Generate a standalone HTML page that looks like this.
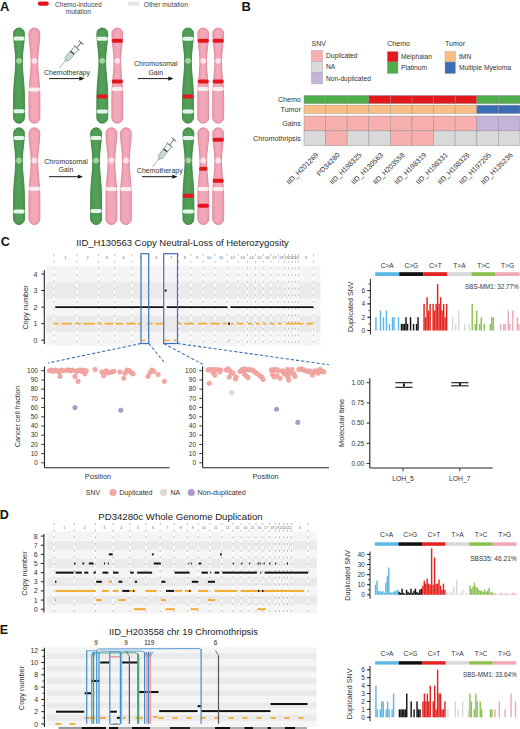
<!DOCTYPE html>
<html><head><meta charset="utf-8"><title>Figure</title>
<style>
html,body{margin:0;padding:0;background:#fff;}
body{width:520px;height:729px;overflow:hidden;}
svg{display:block;font-family:"Liberation Sans", sans-serif;}
</style></head><body>
<svg width="520" height="729" viewBox="0 0 520 729">
<rect x="0" y="0" width="520" height="729" fill="#fff"/>
<text x="0.1" y="11" font-size="13" text-anchor="start" fill="#111" font-weight="bold" >A</text>
<rect x="37.8" y="1.6" width="11" height="4.2" rx="2.1" fill="#e3161e"/>
<text x="55" y="6.8" font-size="6.6" text-anchor="start" fill="#444" font-weight="normal" >Chemo-induced</text>
<text x="78.3" y="14.3" font-size="6.6" text-anchor="middle" fill="#444" font-weight="normal" >mutation</text>
<rect x="127.8" y="1.6" width="12.2" height="4.2" rx="2.1" fill="#e6e6e6"/>
<text x="143.7" y="6.8" font-size="6.7" text-anchor="start" fill="#444" font-weight="normal" >Other mutation</text>
<path d="M13.55,33.45 A5.45,5.45 0 0 1 24.45,33.45 C24.45,42.45 22.30,51.80 22.30,60.80 C22.30,72.80 24.45,82.80 24.45,98.80 L24.45,117.75 A5.45,5.45 0 0 1 13.55,117.75 L13.55,98.80 C13.55,82.80 15.70,72.80 15.70,60.80 C15.70,51.80 13.55,42.45 13.55,33.45 Z" fill="#4c9952" stroke="#3a8440" stroke-width="0.9"/>
<path d="M16.00,33.50 A3.0,3.0 0 0 1 22.00,33.50 C22.00,42.50 20.40,51.80 20.40,60.80 C20.40,72.80 22.00,82.80 22.00,98.80 L22.00,117.70 A3.0,3.0 0 0 1 16.00,117.70 L16.00,98.80 C16.00,82.80 17.60,72.80 17.60,60.80 C17.60,51.80 16.00,42.50 16.00,33.50 Z" fill="#58a45d" opacity="0.55"/>
<circle cx="19.00" cy="60.80" r="2.9" fill="#a3d6a3" opacity="0.95"/>
<rect x="13.40" y="36.60" width="11.20" height="4.0" rx="1.8" fill="#e4f5ec"/>
<rect x="13.40" y="109.20" width="11.20" height="4.0" rx="1.8" fill="#e4f5ec"/>
<path d="M28.95,33.45 A5.45,5.45 0 0 1 39.85,33.45 C39.85,42.45 37.70,51.80 37.70,60.80 C37.70,72.80 39.85,82.80 39.85,98.80 L39.85,117.75 A5.45,5.45 0 0 1 28.95,117.75 L28.95,98.80 C28.95,82.80 31.10,72.80 31.10,60.80 C31.10,51.80 28.95,42.45 28.95,33.45 Z" fill="#efa0b2" stroke="#dd8299" stroke-width="0.9"/>
<path d="M31.40,33.50 A3.0,3.0 0 0 1 37.40,33.50 C37.40,42.50 35.80,51.80 35.80,60.80 C35.80,72.80 37.40,82.80 37.40,98.80 L37.40,117.70 A3.0,3.0 0 0 1 31.40,117.70 L31.40,98.80 C31.40,82.80 33.00,72.80 33.00,60.80 C33.00,51.80 31.40,42.50 31.40,33.50 Z" fill="#f3b0c0" opacity="0.55"/>
<circle cx="34.40" cy="60.80" r="2.9" fill="#fde6ec" opacity="0.95"/>
<rect x="28.80" y="87.40" width="11.20" height="4.0" rx="1.8" fill="#f7eef0"/>
<path d="M96.85,33.45 A5.45,5.45 0 0 1 107.75,33.45 C107.75,42.45 105.60,51.80 105.60,60.80 C105.60,72.80 107.75,82.80 107.75,98.80 L107.75,117.75 A5.45,5.45 0 0 1 96.85,117.75 L96.85,98.80 C96.85,82.80 99.00,72.80 99.00,60.80 C99.00,51.80 96.85,42.45 96.85,33.45 Z" fill="#4c9952" stroke="#3a8440" stroke-width="0.9"/>
<path d="M99.30,33.50 A3.0,3.0 0 0 1 105.30,33.50 C105.30,42.50 103.70,51.80 103.70,60.80 C103.70,72.80 105.30,82.80 105.30,98.80 L105.30,117.70 A3.0,3.0 0 0 1 99.30,117.70 L99.30,98.80 C99.30,82.80 100.90,72.80 100.90,60.80 C100.90,51.80 99.30,42.50 99.30,33.50 Z" fill="#58a45d" opacity="0.55"/>
<circle cx="102.30" cy="60.80" r="2.9" fill="#a3d6a3" opacity="0.95"/>
<rect x="96.70" y="36.80" width="11.20" height="4.0" rx="1.8" fill="#e4f5ec"/>
<rect x="96.70" y="94.60" width="11.20" height="4.0" rx="1.8" fill="#e3161e"/>
<rect x="96.70" y="109.50" width="11.20" height="4.0" rx="1.8" fill="#e4f5ec"/>
<path d="M111.85,33.45 A5.45,5.45 0 0 1 122.75,33.45 C122.75,42.45 120.60,51.80 120.60,60.80 C120.60,72.80 122.75,82.80 122.75,98.80 L122.75,117.75 A5.45,5.45 0 0 1 111.85,117.75 L111.85,98.80 C111.85,82.80 114.00,72.80 114.00,60.80 C114.00,51.80 111.85,42.45 111.85,33.45 Z" fill="#efa0b2" stroke="#dd8299" stroke-width="0.9"/>
<path d="M114.30,33.50 A3.0,3.0 0 0 1 120.30,33.50 C120.30,42.50 118.70,51.80 118.70,60.80 C118.70,72.80 120.30,82.80 120.30,98.80 L120.30,117.70 A3.0,3.0 0 0 1 114.30,117.70 L114.30,98.80 C114.30,82.80 115.90,72.80 115.90,60.80 C115.90,51.80 114.30,42.50 114.30,33.50 Z" fill="#f3b0c0" opacity="0.55"/>
<circle cx="117.30" cy="60.80" r="2.9" fill="#fde6ec" opacity="0.95"/>
<rect x="111.70" y="38.70" width="11.20" height="4.0" rx="1.8" fill="#e3161e"/>
<rect x="111.70" y="79.40" width="11.20" height="4.0" rx="1.8" fill="#e3161e"/>
<rect x="111.70" y="86.90" width="11.20" height="4.0" rx="1.8" fill="#f7eef0"/>
<path d="M182.55,33.45 A5.45,5.45 0 0 1 193.45,33.45 C193.45,42.45 191.30,51.80 191.30,60.80 C191.30,72.80 193.45,82.80 193.45,98.80 L193.45,117.75 A5.45,5.45 0 0 1 182.55,117.75 L182.55,98.80 C182.55,82.80 184.70,72.80 184.70,60.80 C184.70,51.80 182.55,42.45 182.55,33.45 Z" fill="#4c9952" stroke="#3a8440" stroke-width="0.9"/>
<path d="M185.00,33.50 A3.0,3.0 0 0 1 191.00,33.50 C191.00,42.50 189.40,51.80 189.40,60.80 C189.40,72.80 191.00,82.80 191.00,98.80 L191.00,117.70 A3.0,3.0 0 0 1 185.00,117.70 L185.00,98.80 C185.00,82.80 186.60,72.80 186.60,60.80 C186.60,51.80 185.00,42.50 185.00,33.50 Z" fill="#58a45d" opacity="0.55"/>
<circle cx="188.00" cy="60.80" r="2.9" fill="#a3d6a3" opacity="0.95"/>
<rect x="182.40" y="36.80" width="11.20" height="4.0" rx="1.8" fill="#e4f5ec"/>
<rect x="182.40" y="94.60" width="11.20" height="4.0" rx="1.8" fill="#e3161e"/>
<rect x="182.40" y="109.50" width="11.20" height="4.0" rx="1.8" fill="#e4f5ec"/>
<path d="M197.75,33.45 A5.45,5.45 0 0 1 208.65,33.45 C208.65,42.45 206.50,51.80 206.50,60.80 C206.50,72.80 208.65,82.80 208.65,98.80 L208.65,117.75 A5.45,5.45 0 0 1 197.75,117.75 L197.75,98.80 C197.75,82.80 199.90,72.80 199.90,60.80 C199.90,51.80 197.75,42.45 197.75,33.45 Z" fill="#efa0b2" stroke="#dd8299" stroke-width="0.9"/>
<path d="M200.20,33.50 A3.0,3.0 0 0 1 206.20,33.50 C206.20,42.50 204.60,51.80 204.60,60.80 C204.60,72.80 206.20,82.80 206.20,98.80 L206.20,117.70 A3.0,3.0 0 0 1 200.20,117.70 L200.20,98.80 C200.20,82.80 201.80,72.80 201.80,60.80 C201.80,51.80 200.20,42.50 200.20,33.50 Z" fill="#f3b0c0" opacity="0.55"/>
<circle cx="203.20" cy="60.80" r="2.9" fill="#fde6ec" opacity="0.95"/>
<rect x="197.60" y="38.70" width="11.20" height="4.0" rx="1.8" fill="#e3161e"/>
<rect x="197.60" y="79.40" width="11.20" height="4.0" rx="1.8" fill="#e3161e"/>
<rect x="197.60" y="86.90" width="11.20" height="4.0" rx="1.8" fill="#f7eef0"/>
<path d="M212.75,33.45 A5.45,5.45 0 0 1 223.65,33.45 C223.65,42.45 221.50,51.80 221.50,60.80 C221.50,72.80 223.65,82.80 223.65,98.80 L223.65,117.75 A5.45,5.45 0 0 1 212.75,117.75 L212.75,98.80 C212.75,82.80 214.90,72.80 214.90,60.80 C214.90,51.80 212.75,42.45 212.75,33.45 Z" fill="#efa0b2" stroke="#dd8299" stroke-width="0.9"/>
<path d="M215.20,33.50 A3.0,3.0 0 0 1 221.20,33.50 C221.20,42.50 219.60,51.80 219.60,60.80 C219.60,72.80 221.20,82.80 221.20,98.80 L221.20,117.70 A3.0,3.0 0 0 1 215.20,117.70 L215.20,98.80 C215.20,82.80 216.80,72.80 216.80,60.80 C216.80,51.80 215.20,42.50 215.20,33.50 Z" fill="#f3b0c0" opacity="0.55"/>
<circle cx="218.20" cy="60.80" r="2.9" fill="#fde6ec" opacity="0.95"/>
<rect x="212.60" y="38.70" width="11.20" height="4.0" rx="1.8" fill="#e3161e"/>
<rect x="212.60" y="79.40" width="11.20" height="4.0" rx="1.8" fill="#e3161e"/>
<rect x="212.60" y="86.90" width="11.20" height="4.0" rx="1.8" fill="#f7eef0"/>
<path d="M13.55,133.25 A5.45,5.45 0 0 1 24.45,133.25 C24.45,142.25 22.30,151.50 22.30,160.50 C22.30,172.50 24.45,182.50 24.45,198.50 L24.45,219.05 A5.45,5.45 0 0 1 13.55,219.05 L13.55,198.50 C13.55,182.50 15.70,172.50 15.70,160.50 C15.70,151.50 13.55,142.25 13.55,133.25 Z" fill="#4c9952" stroke="#3a8440" stroke-width="0.9"/>
<path d="M16.00,133.30 A3.0,3.0 0 0 1 22.00,133.30 C22.00,142.30 20.40,151.50 20.40,160.50 C20.40,172.50 22.00,182.50 22.00,198.50 L22.00,219.00 A3.0,3.0 0 0 1 16.00,219.00 L16.00,198.50 C16.00,182.50 17.60,172.50 17.60,160.50 C17.60,151.50 16.00,142.30 16.00,133.30 Z" fill="#58a45d" opacity="0.55"/>
<circle cx="19.00" cy="160.50" r="2.9" fill="#a3d6a3" opacity="0.95"/>
<rect x="13.40" y="136.00" width="11.20" height="4.0" rx="1.8" fill="#e4f5ec"/>
<rect x="13.40" y="209.60" width="11.20" height="4.0" rx="1.8" fill="#e4f5ec"/>
<path d="M28.95,133.25 A5.45,5.45 0 0 1 39.85,133.25 C39.85,142.25 37.70,151.50 37.70,160.50 C37.70,172.50 39.85,182.50 39.85,198.50 L39.85,219.05 A5.45,5.45 0 0 1 28.95,219.05 L28.95,198.50 C28.95,182.50 31.10,172.50 31.10,160.50 C31.10,151.50 28.95,142.25 28.95,133.25 Z" fill="#efa0b2" stroke="#dd8299" stroke-width="0.9"/>
<path d="M31.40,133.30 A3.0,3.0 0 0 1 37.40,133.30 C37.40,142.30 35.80,151.50 35.80,160.50 C35.80,172.50 37.40,182.50 37.40,198.50 L37.40,219.00 A3.0,3.0 0 0 1 31.40,219.00 L31.40,198.50 C31.40,182.50 33.00,172.50 33.00,160.50 C33.00,151.50 31.40,142.30 31.40,133.30 Z" fill="#f3b0c0" opacity="0.55"/>
<circle cx="34.40" cy="160.50" r="2.9" fill="#fde6ec" opacity="0.95"/>
<rect x="28.80" y="186.70" width="11.20" height="4.0" rx="1.8" fill="#f7eef0"/>
<path d="M90.65,133.25 A5.45,5.45 0 0 1 101.55,133.25 C101.55,142.25 99.40,151.50 99.40,160.50 C99.40,172.50 101.55,182.50 101.55,198.50 L101.55,219.05 A5.45,5.45 0 0 1 90.65,219.05 L90.65,198.50 C90.65,182.50 92.80,172.50 92.80,160.50 C92.80,151.50 90.65,142.25 90.65,133.25 Z" fill="#4c9952" stroke="#3a8440" stroke-width="0.9"/>
<path d="M93.10,133.30 A3.0,3.0 0 0 1 99.10,133.30 C99.10,142.30 97.50,151.50 97.50,160.50 C97.50,172.50 99.10,182.50 99.10,198.50 L99.10,219.00 A3.0,3.0 0 0 1 93.10,219.00 L93.10,198.50 C93.10,182.50 94.70,172.50 94.70,160.50 C94.70,151.50 93.10,142.30 93.10,133.30 Z" fill="#58a45d" opacity="0.55"/>
<circle cx="96.10" cy="160.50" r="2.9" fill="#a3d6a3" opacity="0.95"/>
<rect x="90.50" y="136.00" width="11.20" height="4.0" rx="1.8" fill="#e4f5ec"/>
<rect x="90.50" y="209.00" width="11.20" height="4.0" rx="1.8" fill="#e4f5ec"/>
<path d="M105.95,133.25 A5.45,5.45 0 0 1 116.85,133.25 C116.85,142.25 114.70,151.50 114.70,160.50 C114.70,172.50 116.85,182.50 116.85,198.50 L116.85,219.05 A5.45,5.45 0 0 1 105.95,219.05 L105.95,198.50 C105.95,182.50 108.10,172.50 108.10,160.50 C108.10,151.50 105.95,142.25 105.95,133.25 Z" fill="#efa0b2" stroke="#dd8299" stroke-width="0.9"/>
<path d="M108.40,133.30 A3.0,3.0 0 0 1 114.40,133.30 C114.40,142.30 112.80,151.50 112.80,160.50 C112.80,172.50 114.40,182.50 114.40,198.50 L114.40,219.00 A3.0,3.0 0 0 1 108.40,219.00 L108.40,198.50 C108.40,182.50 110.00,172.50 110.00,160.50 C110.00,151.50 108.40,142.30 108.40,133.30 Z" fill="#f3b0c0" opacity="0.55"/>
<circle cx="111.40" cy="160.50" r="2.9" fill="#fde6ec" opacity="0.95"/>
<rect x="105.80" y="186.90" width="11.20" height="4.0" rx="1.8" fill="#f7eef0"/>
<path d="M120.45,133.25 A5.45,5.45 0 0 1 131.35,133.25 C131.35,142.25 129.20,151.50 129.20,160.50 C129.20,172.50 131.35,182.50 131.35,198.50 L131.35,219.05 A5.45,5.45 0 0 1 120.45,219.05 L120.45,198.50 C120.45,182.50 122.60,172.50 122.60,160.50 C122.60,151.50 120.45,142.25 120.45,133.25 Z" fill="#efa0b2" stroke="#dd8299" stroke-width="0.9"/>
<path d="M122.90,133.30 A3.0,3.0 0 0 1 128.90,133.30 C128.90,142.30 127.30,151.50 127.30,160.50 C127.30,172.50 128.90,182.50 128.90,198.50 L128.90,219.00 A3.0,3.0 0 0 1 122.90,219.00 L122.90,198.50 C122.90,182.50 124.50,172.50 124.50,160.50 C124.50,151.50 122.90,142.30 122.90,133.30 Z" fill="#f3b0c0" opacity="0.55"/>
<circle cx="125.90" cy="160.50" r="2.9" fill="#fde6ec" opacity="0.95"/>
<rect x="120.30" y="186.90" width="11.20" height="4.0" rx="1.8" fill="#f7eef0"/>
<path d="M182.95,133.25 A5.45,5.45 0 0 1 193.85,133.25 C193.85,142.25 191.70,151.50 191.70,160.50 C191.70,172.50 193.85,182.50 193.85,198.50 L193.85,219.05 A5.45,5.45 0 0 1 182.95,219.05 L182.95,198.50 C182.95,182.50 185.10,172.50 185.10,160.50 C185.10,151.50 182.95,142.25 182.95,133.25 Z" fill="#4c9952" stroke="#3a8440" stroke-width="0.9"/>
<path d="M185.40,133.30 A3.0,3.0 0 0 1 191.40,133.30 C191.40,142.30 189.80,151.50 189.80,160.50 C189.80,172.50 191.40,182.50 191.40,198.50 L191.40,219.00 A3.0,3.0 0 0 1 185.40,219.00 L185.40,198.50 C185.40,182.50 187.00,172.50 187.00,160.50 C187.00,151.50 185.40,142.30 185.40,133.30 Z" fill="#58a45d" opacity="0.55"/>
<circle cx="188.40" cy="160.50" r="2.9" fill="#a3d6a3" opacity="0.95"/>
<rect x="182.80" y="136.00" width="11.20" height="4.0" rx="1.8" fill="#e4f5ec"/>
<rect x="182.80" y="193.80" width="11.20" height="4.0" rx="1.8" fill="#e3161e"/>
<rect x="182.80" y="209.50" width="11.20" height="4.0" rx="1.8" fill="#e4f5ec"/>
<path d="M197.85,133.25 A5.45,5.45 0 0 1 208.75,133.25 C208.75,142.25 206.60,151.50 206.60,160.50 C206.60,172.50 208.75,182.50 208.75,198.50 L208.75,219.05 A5.45,5.45 0 0 1 197.85,219.05 L197.85,198.50 C197.85,182.50 200.00,172.50 200.00,160.50 C200.00,151.50 197.85,142.25 197.85,133.25 Z" fill="#efa0b2" stroke="#dd8299" stroke-width="0.9"/>
<path d="M200.30,133.30 A3.0,3.0 0 0 1 206.30,133.30 C206.30,142.30 204.70,151.50 204.70,160.50 C204.70,172.50 206.30,182.50 206.30,198.50 L206.30,219.00 A3.0,3.0 0 0 1 200.30,219.00 L200.30,198.50 C200.30,182.50 201.90,172.50 201.90,160.50 C201.90,151.50 200.30,142.30 200.30,133.30 Z" fill="#f3b0c0" opacity="0.55"/>
<circle cx="203.30" cy="160.50" r="2.9" fill="#fde6ec" opacity="0.95"/>
<rect x="199.10" y="166.80" width="8.40" height="4.0" rx="1.8" fill="#e3161e"/>
<rect x="197.70" y="187.00" width="11.20" height="4.0" rx="1.8" fill="#f7eef0"/>
<rect x="197.70" y="203.80" width="11.20" height="4.0" rx="1.8" fill="#e3161e"/>
<path d="M212.75,133.25 A5.45,5.45 0 0 1 223.65,133.25 C223.65,142.25 221.50,151.50 221.50,160.50 C221.50,172.50 223.65,182.50 223.65,198.50 L223.65,219.05 A5.45,5.45 0 0 1 212.75,219.05 L212.75,198.50 C212.75,182.50 214.90,172.50 214.90,160.50 C214.90,151.50 212.75,142.25 212.75,133.25 Z" fill="#efa0b2" stroke="#dd8299" stroke-width="0.9"/>
<path d="M215.20,133.30 A3.0,3.0 0 0 1 221.20,133.30 C221.20,142.30 219.60,151.50 219.60,160.50 C219.60,172.50 221.20,182.50 221.20,198.50 L221.20,219.00 A3.0,3.0 0 0 1 215.20,219.00 L215.20,198.50 C215.20,182.50 216.80,172.50 216.80,160.50 C216.80,151.50 215.20,142.30 215.20,133.30 Z" fill="#f3b0c0" opacity="0.55"/>
<circle cx="218.20" cy="160.50" r="2.9" fill="#fde6ec" opacity="0.95"/>
<rect x="212.60" y="137.70" width="11.20" height="4.0" rx="1.8" fill="#e3161e"/>
<rect x="212.60" y="178.80" width="11.20" height="4.0" rx="1.8" fill="#e3161e"/>
<rect x="212.60" y="187.00" width="11.20" height="4.0" rx="1.8" fill="#f7eef0"/>
<text x="67" y="74.6" font-size="7.0" text-anchor="middle" fill="#333" font-weight="normal" >Chemotherapy</text>
<line x1="49.2" y1="78.6" x2="81.6" y2="78.6" stroke="#1a1a1a" stroke-width="1.0"/><path d="M84.6,78.6 L79.39999999999999,76.5 L79.39999999999999,80.69999999999999 Z" fill="#1a1a1a"/>
<text x="155.8" y="66.2" font-size="7.0" text-anchor="middle" fill="#333" font-weight="normal" >Chromosomal</text>
<text x="155.8" y="74.6" font-size="7.0" text-anchor="middle" fill="#333" font-weight="normal" >Gain</text>
<line x1="137.7" y1="78.6" x2="170.5" y2="78.6" stroke="#1a1a1a" stroke-width="1.0"/><path d="M173.5,78.6 L168.3,76.5 L168.3,80.69999999999999 Z" fill="#1a1a1a"/>
<text x="66" y="163.6" font-size="7.0" text-anchor="middle" fill="#333" font-weight="normal" >Chromosomal</text>
<text x="66" y="172.1" font-size="7.0" text-anchor="middle" fill="#333" font-weight="normal" >Gain</text>
<line x1="49" y1="176.7" x2="80" y2="176.7" stroke="#1a1a1a" stroke-width="1.0"/><path d="M83,176.7 L77.8,174.6 L77.8,178.79999999999998 Z" fill="#1a1a1a"/>
<text x="159.8" y="172.6" font-size="7.0" text-anchor="middle" fill="#333" font-weight="normal" >Chemotherapy</text>
<line x1="142" y1="176.7" x2="174.5" y2="176.7" stroke="#1a1a1a" stroke-width="1.0"/><path d="M177.5,176.7 L172.3,174.6 L172.3,178.79999999999998 Z" fill="#1a1a1a"/>
<g transform="translate(59.00,68.40) rotate(-49.42)">
<line x1="0" y1="0" x2="10.74" y2="0" stroke="#7f8a8a" stroke-width="0.6"/>
<rect x="9.67" y="-1.0" width="2.15" height="2.0" fill="#c9d6d4" stroke="#6f7b7b" stroke-width="0.4"/>
<rect x="11.82" y="-2.5" width="15.40" height="5.0" rx="0.5" fill="#eef4f3" stroke="#5f6b6b" stroke-width="0.55"/>
<rect x="12.22" y="-1.9" width="8.01" height="3.8" fill="#c3dcd8"/>
<rect x="19.83" y="-2.3" width="1.5" height="4.6" fill="#3d4a4a"/>
<line x1="15.67" y1="-2.5" x2="15.67" y2="-1.2" stroke="#5f6b6b" stroke-width="0.4"/>
<line x1="19.52" y1="-2.5" x2="19.52" y2="-1.2" stroke="#5f6b6b" stroke-width="0.4"/>
<line x1="23.37" y1="-2.5" x2="23.37" y2="-1.2" stroke="#5f6b6b" stroke-width="0.4"/>
<line x1="27.22" y1="-3.8" x2="27.22" y2="3.8" stroke="#5f6b6b" stroke-width="0.8"/>
<line x1="27.22" y1="0" x2="34.02" y2="0" stroke="#6f7b7b" stroke-width="1.0"/>
<line x1="34.02" y1="-3.0" x2="34.02" y2="3.0" stroke="#5f6b6b" stroke-width="1.0"/>
</g>
<g transform="translate(152.60,167.00) rotate(-52.32)">
<line x1="0" y1="0" x2="10.99" y2="0" stroke="#7f8a8a" stroke-width="0.6"/>
<rect x="9.89" y="-1.0" width="2.20" height="2.0" fill="#c9d6d4" stroke="#6f7b7b" stroke-width="0.4"/>
<rect x="12.09" y="-2.5" width="15.76" height="5.0" rx="0.5" fill="#eef4f3" stroke="#5f6b6b" stroke-width="0.55"/>
<rect x="12.49" y="-1.9" width="8.19" height="3.8" fill="#c3dcd8"/>
<rect x="20.29" y="-2.3" width="1.5" height="4.6" fill="#3d4a4a"/>
<line x1="16.03" y1="-2.5" x2="16.03" y2="-1.2" stroke="#5f6b6b" stroke-width="0.4"/>
<line x1="19.97" y1="-2.5" x2="19.97" y2="-1.2" stroke="#5f6b6b" stroke-width="0.4"/>
<line x1="23.91" y1="-2.5" x2="23.91" y2="-1.2" stroke="#5f6b6b" stroke-width="0.4"/>
<line x1="27.85" y1="-3.8" x2="27.85" y2="3.8" stroke="#5f6b6b" stroke-width="0.8"/>
<line x1="27.85" y1="0" x2="34.81" y2="0" stroke="#6f7b7b" stroke-width="1.0"/>
<line x1="34.81" y1="-3.0" x2="34.81" y2="3.0" stroke="#5f6b6b" stroke-width="1.0"/>
</g>
<text x="241.6" y="11.2" font-size="13" text-anchor="start" fill="#111" font-weight="bold" >B</text>
<text x="311.5" y="46" font-size="7" text-anchor="start" fill="#333" font-weight="normal" >SNV</text>
<text x="387.3" y="46" font-size="7" text-anchor="start" fill="#333" font-weight="normal" >Chemo</text>
<text x="445" y="46" font-size="7" text-anchor="start" fill="#333" font-weight="normal" >Tumor</text>
<rect x="311.5" y="50.4" width="11.1" height="11.10" fill="#f8b0ae" stroke="#aaa" stroke-width="0.5"/>
<text x="325.9" y="58.45" font-size="6.7" text-anchor="start" fill="#333" font-weight="normal" >Duplicated</text>
<rect x="311.5" y="61.5" width="11.1" height="10.80" fill="#d9d9d9" stroke="#aaa" stroke-width="0.5"/>
<text x="325.9" y="69.4" font-size="6.7" text-anchor="start" fill="#333" font-weight="normal" >NA</text>
<rect x="311.5" y="72.3" width="11.1" height="11.60" fill="#c5b4da" stroke="#aaa" stroke-width="0.5"/>
<text x="325.9" y="80.6" font-size="6.7" text-anchor="start" fill="#333" font-weight="normal" >Non-duplicated</text>
<rect x="387.3" y="51.6" width="10.7" height="10.40" fill="#e3191c" stroke="#999" stroke-width="0.4"/>
<text x="401" y="59.3" font-size="6.7" text-anchor="start" fill="#333" font-weight="normal" >Melphalan</text>
<rect x="387.3" y="62" width="10.7" height="11.50" fill="#4dae4a" stroke="#999" stroke-width="0.4"/>
<text x="401" y="70.25" font-size="6.7" text-anchor="start" fill="#333" font-weight="normal" >Platinum</text>
<rect x="445" y="51.6" width="10.4" height="10.40" fill="#fbbd86" stroke="#999" stroke-width="0.4"/>
<text x="459" y="59.3" font-size="6.7" text-anchor="start" fill="#333" font-weight="normal" >tMN</text>
<rect x="445" y="62" width="10.4" height="11.50" fill="#3b6db4" stroke="#999" stroke-width="0.4"/>
<text x="459" y="70.25" font-size="6.7" text-anchor="start" fill="#333" font-weight="normal" >Multiple Myeloma</text>
<rect x="304.00" y="95.5" width="21.60" height="8.10" fill="#4dae4a" stroke="#8c8c8c" stroke-opacity="0.55" stroke-width="0.8"/>
<rect x="325.60" y="95.5" width="21.60" height="8.10" fill="#4dae4a" stroke="#8c8c8c" stroke-opacity="0.55" stroke-width="0.8"/>
<rect x="347.20" y="95.5" width="21.60" height="8.10" fill="#4dae4a" stroke="#8c8c8c" stroke-opacity="0.55" stroke-width="0.8"/>
<rect x="368.80" y="95.5" width="21.60" height="8.10" fill="#e3191c" stroke="#8c8c8c" stroke-opacity="0.55" stroke-width="0.8"/>
<rect x="390.40" y="95.5" width="21.60" height="8.10" fill="#e3191c" stroke="#8c8c8c" stroke-opacity="0.55" stroke-width="0.8"/>
<rect x="412.00" y="95.5" width="21.60" height="8.10" fill="#e3191c" stroke="#8c8c8c" stroke-opacity="0.55" stroke-width="0.8"/>
<rect x="433.60" y="95.5" width="21.60" height="8.10" fill="#e3191c" stroke="#8c8c8c" stroke-opacity="0.55" stroke-width="0.8"/>
<rect x="455.20" y="95.5" width="21.60" height="8.10" fill="#e3191c" stroke="#8c8c8c" stroke-opacity="0.55" stroke-width="0.8"/>
<rect x="476.80" y="95.5" width="21.60" height="8.10" fill="#4dae4a" stroke="#8c8c8c" stroke-opacity="0.55" stroke-width="0.8"/>
<rect x="498.40" y="95.5" width="21.60" height="8.10" fill="#4dae4a" stroke="#8c8c8c" stroke-opacity="0.55" stroke-width="0.8"/>
<rect x="304.00" y="105.2" width="21.60" height="8.30" fill="#fbbd86" stroke="#8c8c8c" stroke-opacity="0.55" stroke-width="0.8"/>
<rect x="325.60" y="105.2" width="21.60" height="8.30" fill="#fbbd86" stroke="#8c8c8c" stroke-opacity="0.55" stroke-width="0.8"/>
<rect x="347.20" y="105.2" width="21.60" height="8.30" fill="#fbbd86" stroke="#8c8c8c" stroke-opacity="0.55" stroke-width="0.8"/>
<rect x="368.80" y="105.2" width="21.60" height="8.30" fill="#fbbd86" stroke="#8c8c8c" stroke-opacity="0.55" stroke-width="0.8"/>
<rect x="390.40" y="105.2" width="21.60" height="8.30" fill="#fbbd86" stroke="#8c8c8c" stroke-opacity="0.55" stroke-width="0.8"/>
<rect x="412.00" y="105.2" width="21.60" height="8.30" fill="#fbbd86" stroke="#8c8c8c" stroke-opacity="0.55" stroke-width="0.8"/>
<rect x="433.60" y="105.2" width="21.60" height="8.30" fill="#fbbd86" stroke="#8c8c8c" stroke-opacity="0.55" stroke-width="0.8"/>
<rect x="455.20" y="105.2" width="21.60" height="8.30" fill="#fbbd86" stroke="#8c8c8c" stroke-opacity="0.55" stroke-width="0.8"/>
<rect x="476.80" y="105.2" width="21.60" height="8.30" fill="#3b6db4" stroke="#8c8c8c" stroke-opacity="0.55" stroke-width="0.8"/>
<rect x="498.40" y="105.2" width="21.60" height="8.30" fill="#3b6db4" stroke="#8c8c8c" stroke-opacity="0.55" stroke-width="0.8"/>
<rect x="304.00" y="116.0" width="21.60" height="14.80" fill="#f8b0ae" stroke="#8c8c8c" stroke-opacity="0.55" stroke-width="0.8"/>
<rect x="325.60" y="116.0" width="21.60" height="14.80" fill="#f8b0ae" stroke="#8c8c8c" stroke-opacity="0.55" stroke-width="0.8"/>
<rect x="347.20" y="116.0" width="21.60" height="14.80" fill="#f8b0ae" stroke="#8c8c8c" stroke-opacity="0.55" stroke-width="0.8"/>
<rect x="368.80" y="116.0" width="21.60" height="14.80" fill="#f8b0ae" stroke="#8c8c8c" stroke-opacity="0.55" stroke-width="0.8"/>
<rect x="390.40" y="116.0" width="21.60" height="14.80" fill="#f8b0ae" stroke="#8c8c8c" stroke-opacity="0.55" stroke-width="0.8"/>
<rect x="412.00" y="116.0" width="21.60" height="14.80" fill="#f8b0ae" stroke="#8c8c8c" stroke-opacity="0.55" stroke-width="0.8"/>
<rect x="433.60" y="116.0" width="21.60" height="14.80" fill="#f8b0ae" stroke="#8c8c8c" stroke-opacity="0.55" stroke-width="0.8"/>
<rect x="455.20" y="116.0" width="21.60" height="14.80" fill="#f8b0ae" stroke="#8c8c8c" stroke-opacity="0.55" stroke-width="0.8"/>
<rect x="476.80" y="116.0" width="21.60" height="14.80" fill="#c5b4da" stroke="#8c8c8c" stroke-opacity="0.55" stroke-width="0.8"/>
<rect x="498.40" y="116.0" width="21.60" height="14.80" fill="#c5b4da" stroke="#8c8c8c" stroke-opacity="0.55" stroke-width="0.8"/>
<rect x="304.00" y="130.8" width="21.60" height="14.80" fill="#d9d9d9" stroke="#8c8c8c" stroke-opacity="0.55" stroke-width="0.8"/>
<rect x="325.60" y="130.8" width="21.60" height="14.80" fill="#f8b0ae" stroke="#8c8c8c" stroke-opacity="0.55" stroke-width="0.8"/>
<rect x="347.20" y="130.8" width="21.60" height="14.80" fill="#d9d9d9" stroke="#8c8c8c" stroke-opacity="0.55" stroke-width="0.8"/>
<rect x="368.80" y="130.8" width="21.60" height="14.80" fill="#d9d9d9" stroke="#8c8c8c" stroke-opacity="0.55" stroke-width="0.8"/>
<rect x="390.40" y="130.8" width="21.60" height="14.80" fill="#f8b0ae" stroke="#8c8c8c" stroke-opacity="0.55" stroke-width="0.8"/>
<rect x="412.00" y="130.8" width="21.60" height="14.80" fill="#f8b0ae" stroke="#8c8c8c" stroke-opacity="0.55" stroke-width="0.8"/>
<rect x="433.60" y="130.8" width="21.60" height="14.80" fill="#d9d9d9" stroke="#8c8c8c" stroke-opacity="0.55" stroke-width="0.8"/>
<rect x="455.20" y="130.8" width="21.60" height="14.80" fill="#d9d9d9" stroke="#8c8c8c" stroke-opacity="0.55" stroke-width="0.8"/>
<rect x="476.80" y="130.8" width="21.60" height="14.80" fill="#d9d9d9" stroke="#8c8c8c" stroke-opacity="0.55" stroke-width="0.8"/>
<rect x="498.40" y="130.8" width="21.60" height="14.80" fill="#d9d9d9" stroke="#8c8c8c" stroke-opacity="0.55" stroke-width="0.8"/>
<text x="300.8" y="101.89999999999999" font-size="7.1" text-anchor="end" fill="#333" font-weight="normal" >Chemo</text>
<text x="300.8" y="111.6" font-size="7.1" text-anchor="end" fill="#333" font-weight="normal" >Tumor</text>
<text x="300.8" y="125.7" font-size="7.1" text-anchor="end" fill="#333" font-weight="normal" >Gains</text>
<text x="300.8" y="140.5" font-size="7.1" text-anchor="end" fill="#333" font-weight="normal" >Chromothripsis</text>
<text x="0" y="0" font-size="7.1" text-anchor="end" fill="#333" transform="translate(318.80,155.5) rotate(-45)">IID_H201269</text>
<text x="0" y="0" font-size="7.1" text-anchor="end" fill="#333" transform="translate(340.40,155.5) rotate(-45)">PD34280</text>
<text x="0" y="0" font-size="7.1" text-anchor="end" fill="#333" transform="translate(362.00,155.5) rotate(-45)">IID_H198325</text>
<text x="0" y="0" font-size="7.1" text-anchor="end" fill="#333" transform="translate(383.60,155.5) rotate(-45)">IID_H130563</text>
<text x="0" y="0" font-size="7.1" text-anchor="end" fill="#333" transform="translate(405.20,155.5) rotate(-45)">IID_H203558</text>
<text x="0" y="0" font-size="7.1" text-anchor="end" fill="#333" transform="translate(426.80,155.5) rotate(-45)">IID_H198319</text>
<text x="0" y="0" font-size="7.1" text-anchor="end" fill="#333" transform="translate(448.40,155.5) rotate(-45)">IID_H198331</text>
<text x="0" y="0" font-size="7.1" text-anchor="end" fill="#333" transform="translate(470.00,155.5) rotate(-45)">IID_H198328</text>
<text x="0" y="0" font-size="7.1" text-anchor="end" fill="#333" transform="translate(491.60,155.5) rotate(-45)">IID_H197205</text>
<text x="0" y="0" font-size="7.1" text-anchor="end" fill="#333" transform="translate(513.20,155.5) rotate(-45)">IID_H135236</text>
<text x="0.8" y="246" font-size="12.5" text-anchor="start" fill="#111" font-weight="bold" >C</text>
<text x="182.5" y="246.2" font-size="9.47" text-anchor="middle" fill="#222" font-weight="normal" >IID_H130563 Copy Neutral-Loss of Heterozygosity</text>
<rect x="46" y="265.72" width="274.50" height="16.55" fill="#f5f5f5"/>
<rect x="46" y="282.27" width="274.50" height="16.55" fill="#eaeaea"/>
<rect x="46" y="298.82" width="274.50" height="16.55" fill="#f5f5f5"/>
<rect x="46" y="315.38" width="274.50" height="16.55" fill="#eaeaea"/>
<rect x="46" y="331.93" width="274.50" height="14.07" fill="#f5f5f5"/>
<line x1="54.00" y1="254" x2="54.00" y2="346" stroke="#ffffff" stroke-width="1.8" stroke-opacity="0.75"/>
<line x1="54.00" y1="254" x2="54.00" y2="346" stroke="#bdbdbd" stroke-width="0.9" stroke-dasharray="2,4.7"/>
<line x1="76.90" y1="254" x2="76.90" y2="346" stroke="#ffffff" stroke-width="1.8" stroke-opacity="0.75"/>
<line x1="76.90" y1="254" x2="76.90" y2="346" stroke="#bdbdbd" stroke-width="0.9" stroke-dasharray="2,4.7"/>
<line x1="98.50" y1="254" x2="98.50" y2="346" stroke="#ffffff" stroke-width="1.8" stroke-opacity="0.75"/>
<line x1="98.50" y1="254" x2="98.50" y2="346" stroke="#bdbdbd" stroke-width="0.9" stroke-dasharray="2,4.7"/>
<line x1="114.60" y1="254" x2="114.60" y2="346" stroke="#ffffff" stroke-width="1.8" stroke-opacity="0.75"/>
<line x1="114.60" y1="254" x2="114.60" y2="346" stroke="#bdbdbd" stroke-width="0.9" stroke-dasharray="2,4.7"/>
<line x1="132.10" y1="254" x2="132.10" y2="346" stroke="#ffffff" stroke-width="1.8" stroke-opacity="0.75"/>
<line x1="132.10" y1="254" x2="132.10" y2="346" stroke="#bdbdbd" stroke-width="0.9" stroke-dasharray="2,4.7"/>
<line x1="149.00" y1="254" x2="149.00" y2="346" stroke="#ffffff" stroke-width="1.8" stroke-opacity="0.75"/>
<line x1="149.00" y1="254" x2="149.00" y2="346" stroke="#bdbdbd" stroke-width="0.9" stroke-dasharray="2,4.7"/>
<line x1="163.50" y1="254" x2="163.50" y2="346" stroke="#ffffff" stroke-width="1.8" stroke-opacity="0.75"/>
<line x1="163.50" y1="254" x2="163.50" y2="346" stroke="#bdbdbd" stroke-width="0.9" stroke-dasharray="2,4.7"/>
<line x1="178.50" y1="254" x2="178.50" y2="346" stroke="#ffffff" stroke-width="1.8" stroke-opacity="0.75"/>
<line x1="178.50" y1="254" x2="178.50" y2="346" stroke="#bdbdbd" stroke-width="0.9" stroke-dasharray="2,4.7"/>
<line x1="191.00" y1="254" x2="191.00" y2="346" stroke="#ffffff" stroke-width="1.8" stroke-opacity="0.75"/>
<line x1="191.00" y1="254" x2="191.00" y2="346" stroke="#bdbdbd" stroke-width="0.9" stroke-dasharray="2,4.7"/>
<line x1="203.20" y1="254" x2="203.20" y2="346" stroke="#ffffff" stroke-width="1.8" stroke-opacity="0.75"/>
<line x1="203.20" y1="254" x2="203.20" y2="346" stroke="#bdbdbd" stroke-width="0.9" stroke-dasharray="2,4.7"/>
<line x1="215.00" y1="254" x2="215.00" y2="346" stroke="#ffffff" stroke-width="1.8" stroke-opacity="0.75"/>
<line x1="215.00" y1="254" x2="215.00" y2="346" stroke="#bdbdbd" stroke-width="0.9" stroke-dasharray="2,4.7"/>
<line x1="227.20" y1="254" x2="227.20" y2="346" stroke="#ffffff" stroke-width="1.8" stroke-opacity="0.75"/>
<line x1="227.20" y1="254" x2="227.20" y2="346" stroke="#bdbdbd" stroke-width="0.9" stroke-dasharray="2,4.7"/>
<line x1="238.20" y1="254" x2="238.20" y2="346" stroke="#ffffff" stroke-width="1.8" stroke-opacity="0.75"/>
<line x1="238.20" y1="254" x2="238.20" y2="346" stroke="#bdbdbd" stroke-width="0.9" stroke-dasharray="2,4.7"/>
<line x1="247.50" y1="254" x2="247.50" y2="346" stroke="#ffffff" stroke-width="1.8" stroke-opacity="0.75"/>
<line x1="247.50" y1="254" x2="247.50" y2="346" stroke="#bdbdbd" stroke-width="0.9" stroke-dasharray="2,4.7"/>
<line x1="255.60" y1="254" x2="255.60" y2="346" stroke="#ffffff" stroke-width="1.8" stroke-opacity="0.75"/>
<line x1="255.60" y1="254" x2="255.60" y2="346" stroke="#bdbdbd" stroke-width="0.9" stroke-dasharray="2,4.7"/>
<line x1="263.30" y1="254" x2="263.30" y2="346" stroke="#ffffff" stroke-width="1.8" stroke-opacity="0.75"/>
<line x1="263.30" y1="254" x2="263.30" y2="346" stroke="#bdbdbd" stroke-width="0.9" stroke-dasharray="2,4.7"/>
<line x1="271.00" y1="254" x2="271.00" y2="346" stroke="#ffffff" stroke-width="1.8" stroke-opacity="0.75"/>
<line x1="271.00" y1="254" x2="271.00" y2="346" stroke="#bdbdbd" stroke-width="0.9" stroke-dasharray="2,4.7"/>
<line x1="278.20" y1="254" x2="278.20" y2="346" stroke="#ffffff" stroke-width="1.8" stroke-opacity="0.75"/>
<line x1="278.20" y1="254" x2="278.20" y2="346" stroke="#bdbdbd" stroke-width="0.9" stroke-dasharray="2,4.7"/>
<line x1="284.50" y1="254" x2="284.50" y2="346" stroke="#ffffff" stroke-width="1.8" stroke-opacity="0.75"/>
<line x1="284.50" y1="254" x2="284.50" y2="346" stroke="#bdbdbd" stroke-width="0.9" stroke-dasharray="2,4.7"/>
<line x1="288.50" y1="254" x2="288.50" y2="346" stroke="#ffffff" stroke-width="1.8" stroke-opacity="0.75"/>
<line x1="288.50" y1="254" x2="288.50" y2="346" stroke="#bdbdbd" stroke-width="0.9" stroke-dasharray="2,4.7"/>
<line x1="292.50" y1="254" x2="292.50" y2="346" stroke="#ffffff" stroke-width="1.8" stroke-opacity="0.75"/>
<line x1="292.50" y1="254" x2="292.50" y2="346" stroke="#bdbdbd" stroke-width="0.9" stroke-dasharray="2,4.7"/>
<line x1="295.50" y1="254" x2="295.50" y2="346" stroke="#ffffff" stroke-width="1.8" stroke-opacity="0.75"/>
<line x1="295.50" y1="254" x2="295.50" y2="346" stroke="#bdbdbd" stroke-width="0.9" stroke-dasharray="2,4.7"/>
<line x1="298.50" y1="254" x2="298.50" y2="346" stroke="#ffffff" stroke-width="1.8" stroke-opacity="0.75"/>
<line x1="298.50" y1="254" x2="298.50" y2="346" stroke="#bdbdbd" stroke-width="0.9" stroke-dasharray="2,4.7"/>
<line x1="313.50" y1="254" x2="313.50" y2="346" stroke="#ffffff" stroke-width="1.8" stroke-opacity="0.75"/>
<line x1="313.50" y1="254" x2="313.50" y2="346" stroke="#bdbdbd" stroke-width="0.9" stroke-dasharray="2,4.7"/>
<text x="65.45" y="259.2" font-size="4.0" text-anchor="middle" fill="#666" font-weight="normal" >1</text>
<text x="87.70" y="259.2" font-size="4.0" text-anchor="middle" fill="#666" font-weight="normal" >2</text>
<text x="106.55" y="259.2" font-size="4.0" text-anchor="middle" fill="#666" font-weight="normal" >3</text>
<text x="123.35" y="259.2" font-size="4.0" text-anchor="middle" fill="#666" font-weight="normal" >4</text>
<text x="140.55" y="259.2" font-size="4.0" text-anchor="middle" fill="#666" font-weight="normal" >5</text>
<text x="156.25" y="259.2" font-size="4.0" text-anchor="middle" fill="#666" font-weight="normal" >6</text>
<text x="171.00" y="259.2" font-size="4.0" text-anchor="middle" fill="#666" font-weight="normal" >7</text>
<text x="184.75" y="259.2" font-size="4.0" text-anchor="middle" fill="#666" font-weight="normal" >8</text>
<text x="197.10" y="259.2" font-size="4.0" text-anchor="middle" fill="#666" font-weight="normal" >9</text>
<text x="209.10" y="259.2" font-size="4.0" text-anchor="middle" fill="#666" font-weight="normal" >10</text>
<text x="221.10" y="259.2" font-size="4.0" text-anchor="middle" fill="#666" font-weight="normal" >11</text>
<text x="232.70" y="259.2" font-size="4.0" text-anchor="middle" fill="#666" font-weight="normal" >12</text>
<text x="242.85" y="259.2" font-size="4.0" text-anchor="middle" fill="#666" font-weight="normal" >13</text>
<text x="251.55" y="259.2" font-size="4.0" text-anchor="middle" fill="#666" font-weight="normal" >14</text>
<text x="259.45" y="259.2" font-size="4.0" text-anchor="middle" fill="#666" font-weight="normal" >15</text>
<text x="267.15" y="259.2" font-size="4.0" text-anchor="middle" fill="#666" font-weight="normal" >16</text>
<text x="274.60" y="259.2" font-size="4.0" text-anchor="middle" fill="#666" font-weight="normal" >17</text>
<text x="281.35" y="259.2" font-size="4.0" text-anchor="middle" fill="#666" font-weight="normal" >18</text>
<text x="286.50" y="259.2" font-size="4.0" text-anchor="middle" fill="#666" font-weight="normal" >19</text>
<text x="290.50" y="259.2" font-size="4.0" text-anchor="middle" fill="#666" font-weight="normal" >20</text>
<text x="294.00" y="259.2" font-size="4.0" text-anchor="middle" fill="#666" font-weight="normal" >21</text>
<text x="297.00" y="259.2" font-size="4.0" text-anchor="middle" fill="#666" font-weight="normal" >22</text>
<text x="306.00" y="259.2" font-size="4.0" text-anchor="middle" fill="#666" font-weight="normal" >X</text>
<line x1="44.3" y1="270.3" x2="44.3" y2="344.1" stroke="#222" stroke-width="1.1"/>
<line x1="41.3" y1="340.20" x2="44.3" y2="340.20" stroke="#222" stroke-width="1"/>
<text x="35.4" y="342.70" font-size="7" text-anchor="middle" fill="#333" font-weight="normal" >0</text>
<line x1="41.3" y1="323.65" x2="44.3" y2="323.65" stroke="#222" stroke-width="1"/>
<text x="35.4" y="326.15" font-size="7" text-anchor="middle" fill="#333" font-weight="normal" >1</text>
<line x1="41.3" y1="307.10" x2="44.3" y2="307.10" stroke="#222" stroke-width="1"/>
<text x="35.4" y="309.60" font-size="7" text-anchor="middle" fill="#333" font-weight="normal" >2</text>
<line x1="41.3" y1="290.55" x2="44.3" y2="290.55" stroke="#222" stroke-width="1"/>
<text x="35.4" y="293.05" font-size="7" text-anchor="middle" fill="#333" font-weight="normal" >3</text>
<line x1="41.3" y1="274.00" x2="44.3" y2="274.00" stroke="#222" stroke-width="1"/>
<text x="35.4" y="276.50" font-size="7" text-anchor="middle" fill="#333" font-weight="normal" >4</text>
<text x="0" y="0" font-size="7.4" text-anchor="middle" fill="#333" transform="translate(27.6,307.4) rotate(-90)">Copy number</text>
<line x1="55.3" y1="307.10" x2="163.8" y2="307.10" stroke="#111" stroke-width="1.7"/>
<line x1="166.7" y1="307.10" x2="227.5" y2="307.10" stroke="#111" stroke-width="1.7"/>
<line x1="230.4" y1="307.10" x2="313.5" y2="307.10" stroke="#111" stroke-width="1.7"/>
<rect x="164.6" y="289.55" width="2" height="2" fill="#111"/>
<rect x="53.5" y="322.80" width="5.20" height="1.7" fill="#f2ab2e"/>
<rect x="61.5" y="322.80" width="10.40" height="1.7" fill="#f2ab2e"/>
<rect x="75.4" y="322.80" width="5.20" height="1.7" fill="#f2ab2e"/>
<rect x="83.4" y="322.80" width="11.30" height="1.7" fill="#f2ab2e"/>
<rect x="97.5" y="322.80" width="4.10" height="1.7" fill="#f2ab2e"/>
<rect x="104.5" y="322.80" width="8.60" height="1.7" fill="#f2ab2e"/>
<rect x="115.4" y="322.80" width="7.50" height="1.7" fill="#f2ab2e"/>
<rect x="126.4" y="322.80" width="9.20" height="1.7" fill="#f2ab2e"/>
<rect x="137.8" y="322.80" width="2.60" height="1.7" fill="#f2ab2e"/>
<rect x="146.9" y="322.80" width="1.00" height="1.7" fill="#f2ab2e"/>
<rect x="149.2" y="322.80" width="3.50" height="1.7" fill="#f2ab2e"/>
<rect x="155.6" y="322.80" width="7.40" height="1.7" fill="#f2ab2e"/>
<rect x="178" y="322.80" width="3.50" height="1.7" fill="#f2ab2e"/>
<rect x="184.4" y="322.80" width="9.40" height="1.7" fill="#f2ab2e"/>
<rect x="198.2" y="322.80" width="9.10" height="1.7" fill="#f2ab2e"/>
<rect x="210.2" y="322.80" width="9.60" height="1.7" fill="#f2ab2e"/>
<rect x="222.7" y="322.80" width="3.80" height="1.7" fill="#f2ab2e"/>
<rect x="230.9" y="322.80" width="2.60" height="1.7" fill="#f2ab2e"/>
<rect x="236.6" y="322.80" width="6.40" height="1.7" fill="#f2ab2e"/>
<rect x="247.7" y="322.80" width="4.60" height="1.7" fill="#f2ab2e"/>
<rect x="255.8" y="322.80" width="3.50" height="1.7" fill="#f2ab2e"/>
<rect x="262.7" y="322.80" width="3.50" height="1.7" fill="#f2ab2e"/>
<rect x="269.7" y="322.80" width="4.60" height="1.7" fill="#f2ab2e"/>
<rect x="277.7" y="322.80" width="3.50" height="1.7" fill="#f2ab2e"/>
<rect x="285.8" y="322.80" width="17.30" height="1.7" fill="#f2ab2e"/>
<rect x="306.6" y="322.80" width="6.90" height="1.7" fill="#f2ab2e"/>
<rect x="228" y="322.65" width="2" height="2" fill="#111"/>
<line x1="142.2" y1="340.40" x2="145.1" y2="340.40" stroke="#f2ab2e" stroke-width="1.5"/>
<line x1="164.3" y1="340.40" x2="169.6" y2="340.40" stroke="#f2ab2e" stroke-width="1.5"/>
<line x1="173.5" y1="340.40" x2="176.3" y2="340.40" stroke="#f2ab2e" stroke-width="1.5"/>
<line x1="228.5" y1="340.40" x2="230" y2="340.40" stroke="#f2ab2e" stroke-width="1.5"/>
<rect x="141" y="253.7" width="7.7" height="89.8" fill="none" stroke="#3b73b6" stroke-width="1.2"/>
<rect x="163.7" y="253.7" width="13.8" height="89.8" fill="none" stroke="#3b73b6" stroke-width="1.2"/>
<line x1="141" y1="343.5" x2="48" y2="363" stroke="#3b73b6" stroke-width="1.1" stroke-dasharray="3.2,2"/>
<line x1="148.7" y1="343.5" x2="164.4" y2="362.5" stroke="#3b73b6" stroke-width="1.1" stroke-dasharray="3.2,2"/>
<line x1="163.7" y1="343.5" x2="202.7" y2="364.3" stroke="#3b73b6" stroke-width="1.1" stroke-dasharray="3.2,2"/>
<line x1="177.5" y1="343.5" x2="329" y2="364.8" stroke="#3b73b6" stroke-width="1.1" stroke-dasharray="3.2,2"/>
<line x1="44.5" y1="366.6" x2="44.5" y2="467.7" stroke="#222" stroke-width="1.1"/>
<line x1="44.5" y1="467.7" x2="169.6" y2="467.7" stroke="#222" stroke-width="1.1"/>
<line x1="41.20" y1="462.80" x2="44.5" y2="462.80" stroke="#222" stroke-width="0.9"/>
<text x="38.00" y="465.10" font-size="6.6" text-anchor="end" fill="#333" font-weight="normal" >0</text>
<line x1="41.20" y1="453.59" x2="44.5" y2="453.59" stroke="#222" stroke-width="0.9"/>
<text x="38.00" y="455.89" font-size="6.6" text-anchor="end" fill="#333" font-weight="normal" >10</text>
<line x1="41.20" y1="444.38" x2="44.5" y2="444.38" stroke="#222" stroke-width="0.9"/>
<text x="38.00" y="446.68" font-size="6.6" text-anchor="end" fill="#333" font-weight="normal" >20</text>
<line x1="41.20" y1="435.17" x2="44.5" y2="435.17" stroke="#222" stroke-width="0.9"/>
<text x="38.00" y="437.47" font-size="6.6" text-anchor="end" fill="#333" font-weight="normal" >30</text>
<line x1="41.20" y1="425.96" x2="44.5" y2="425.96" stroke="#222" stroke-width="0.9"/>
<text x="38.00" y="428.26" font-size="6.6" text-anchor="end" fill="#333" font-weight="normal" >40</text>
<line x1="41.20" y1="416.75" x2="44.5" y2="416.75" stroke="#222" stroke-width="0.9"/>
<text x="38.00" y="419.05" font-size="6.6" text-anchor="end" fill="#333" font-weight="normal" >50</text>
<line x1="41.20" y1="407.54" x2="44.5" y2="407.54" stroke="#222" stroke-width="0.9"/>
<text x="38.00" y="409.84" font-size="6.6" text-anchor="end" fill="#333" font-weight="normal" >60</text>
<line x1="41.20" y1="398.33" x2="44.5" y2="398.33" stroke="#222" stroke-width="0.9"/>
<text x="38.00" y="400.63" font-size="6.6" text-anchor="end" fill="#333" font-weight="normal" >70</text>
<line x1="41.20" y1="389.12" x2="44.5" y2="389.12" stroke="#222" stroke-width="0.9"/>
<text x="38.00" y="391.42" font-size="6.6" text-anchor="end" fill="#333" font-weight="normal" >80</text>
<line x1="41.20" y1="379.91" x2="44.5" y2="379.91" stroke="#222" stroke-width="0.9"/>
<text x="38.00" y="382.21" font-size="6.6" text-anchor="end" fill="#333" font-weight="normal" >90</text>
<line x1="41.20" y1="370.70" x2="44.5" y2="370.70" stroke="#222" stroke-width="0.9"/>
<text x="38.00" y="373.00" font-size="6.6" text-anchor="end" fill="#333" font-weight="normal" >100</text>
<text x="98" y="479" font-size="7.4" text-anchor="middle" fill="#333" font-weight="normal" >Position</text>
<line x1="202.6" y1="366.6" x2="202.6" y2="467.7" stroke="#222" stroke-width="1.1"/>
<line x1="202.6" y1="467.7" x2="329" y2="467.7" stroke="#222" stroke-width="1.1"/>
<line x1="199.30" y1="462.80" x2="202.6" y2="462.80" stroke="#222" stroke-width="0.9"/>
<text x="196.10" y="465.10" font-size="6.6" text-anchor="end" fill="#333" font-weight="normal" >0</text>
<line x1="199.30" y1="453.59" x2="202.6" y2="453.59" stroke="#222" stroke-width="0.9"/>
<text x="196.10" y="455.89" font-size="6.6" text-anchor="end" fill="#333" font-weight="normal" >10</text>
<line x1="199.30" y1="444.38" x2="202.6" y2="444.38" stroke="#222" stroke-width="0.9"/>
<text x="196.10" y="446.68" font-size="6.6" text-anchor="end" fill="#333" font-weight="normal" >20</text>
<line x1="199.30" y1="435.17" x2="202.6" y2="435.17" stroke="#222" stroke-width="0.9"/>
<text x="196.10" y="437.47" font-size="6.6" text-anchor="end" fill="#333" font-weight="normal" >30</text>
<line x1="199.30" y1="425.96" x2="202.6" y2="425.96" stroke="#222" stroke-width="0.9"/>
<text x="196.10" y="428.26" font-size="6.6" text-anchor="end" fill="#333" font-weight="normal" >40</text>
<line x1="199.30" y1="416.75" x2="202.6" y2="416.75" stroke="#222" stroke-width="0.9"/>
<text x="196.10" y="419.05" font-size="6.6" text-anchor="end" fill="#333" font-weight="normal" >50</text>
<line x1="199.30" y1="407.54" x2="202.6" y2="407.54" stroke="#222" stroke-width="0.9"/>
<text x="196.10" y="409.84" font-size="6.6" text-anchor="end" fill="#333" font-weight="normal" >60</text>
<line x1="199.30" y1="398.33" x2="202.6" y2="398.33" stroke="#222" stroke-width="0.9"/>
<text x="196.10" y="400.63" font-size="6.6" text-anchor="end" fill="#333" font-weight="normal" >70</text>
<line x1="199.30" y1="389.12" x2="202.6" y2="389.12" stroke="#222" stroke-width="0.9"/>
<text x="196.10" y="391.42" font-size="6.6" text-anchor="end" fill="#333" font-weight="normal" >80</text>
<line x1="199.30" y1="379.91" x2="202.6" y2="379.91" stroke="#222" stroke-width="0.9"/>
<text x="196.10" y="382.21" font-size="6.6" text-anchor="end" fill="#333" font-weight="normal" >90</text>
<line x1="199.30" y1="370.70" x2="202.6" y2="370.70" stroke="#222" stroke-width="0.9"/>
<text x="196.10" y="373.00" font-size="6.6" text-anchor="end" fill="#333" font-weight="normal" >100</text>
<text x="265.6" y="479" font-size="7.4" text-anchor="middle" fill="#333" font-weight="normal" >Position</text>
<text x="0" y="0" font-size="7.2" text-anchor="middle" fill="#333" transform="translate(19.7,416.4) rotate(-90)">Cancer cell fraction</text>
<circle cx="49.40" cy="370.80" r="2.3" fill="#f4a8a3" stroke="#e99591" stroke-width="0.5"/>
<circle cx="51.30" cy="370.10" r="2.3" fill="#f4a8a3" stroke="#e99591" stroke-width="0.5"/>
<circle cx="53.10" cy="371.40" r="2.3" fill="#f4a8a3" stroke="#e99591" stroke-width="0.5"/>
<circle cx="55.00" cy="370.10" r="2.3" fill="#f4a8a3" stroke="#e99591" stroke-width="0.5"/>
<circle cx="56.90" cy="370.80" r="2.3" fill="#f4a8a3" stroke="#e99591" stroke-width="0.5"/>
<circle cx="58.80" cy="372.00" r="2.3" fill="#f4a8a3" stroke="#e99591" stroke-width="0.5"/>
<circle cx="60.00" cy="376.40" r="2.3" fill="#f4a8a3" stroke="#e99591" stroke-width="0.5"/>
<circle cx="61.30" cy="370.10" r="2.3" fill="#f4a8a3" stroke="#e99591" stroke-width="0.5"/>
<circle cx="63.10" cy="370.80" r="2.3" fill="#f4a8a3" stroke="#e99591" stroke-width="0.5"/>
<circle cx="66.90" cy="370.10" r="2.3" fill="#f4a8a3" stroke="#e99591" stroke-width="0.5"/>
<circle cx="68.80" cy="370.10" r="2.3" fill="#f4a8a3" stroke="#e99591" stroke-width="0.5"/>
<circle cx="70.60" cy="370.80" r="2.3" fill="#f4a8a3" stroke="#e99591" stroke-width="0.5"/>
<circle cx="72.50" cy="370.10" r="2.3" fill="#f4a8a3" stroke="#e99591" stroke-width="0.5"/>
<circle cx="75.00" cy="376.40" r="2.3" fill="#f4a8a3" stroke="#e99591" stroke-width="0.5"/>
<circle cx="76.30" cy="371.40" r="2.3" fill="#f4a8a3" stroke="#e99591" stroke-width="0.5"/>
<circle cx="78.10" cy="370.80" r="2.3" fill="#f4a8a3" stroke="#e99591" stroke-width="0.5"/>
<circle cx="80.00" cy="370.10" r="2.3" fill="#f4a8a3" stroke="#e99591" stroke-width="0.5"/>
<circle cx="81.90" cy="371.40" r="2.3" fill="#f4a8a3" stroke="#e99591" stroke-width="0.5"/>
<circle cx="83.10" cy="370.10" r="2.3" fill="#f4a8a3" stroke="#e99591" stroke-width="0.5"/>
<circle cx="85.00" cy="373.90" r="2.3" fill="#f4a8a3" stroke="#e99591" stroke-width="0.5"/>
<circle cx="86.30" cy="370.80" r="2.3" fill="#f4a8a3" stroke="#e99591" stroke-width="0.5"/>
<circle cx="78.10" cy="381.40" r="2.3" fill="#f4a8a3" stroke="#e99591" stroke-width="0.5"/>
<circle cx="95.00" cy="369.50" r="2.3" fill="#f4a8a3" stroke="#e99591" stroke-width="0.5"/>
<circle cx="101.90" cy="372.00" r="2.3" fill="#f4a8a3" stroke="#e99591" stroke-width="0.5"/>
<circle cx="103.80" cy="375.80" r="2.3" fill="#f4a8a3" stroke="#e99591" stroke-width="0.5"/>
<circle cx="106.30" cy="370.80" r="2.3" fill="#f4a8a3" stroke="#e99591" stroke-width="0.5"/>
<circle cx="108.10" cy="372.60" r="2.3" fill="#f4a8a3" stroke="#e99591" stroke-width="0.5"/>
<circle cx="106.30" cy="372.00" r="2.3" fill="#f4a8a3" stroke="#e99591" stroke-width="0.5"/>
<circle cx="108.80" cy="372.60" r="2.3" fill="#f4a8a3" stroke="#e99591" stroke-width="0.5"/>
<circle cx="111.30" cy="372.00" r="2.3" fill="#f4a8a3" stroke="#e99591" stroke-width="0.5"/>
<circle cx="113.80" cy="371.40" r="2.3" fill="#f4a8a3" stroke="#e99591" stroke-width="0.5"/>
<circle cx="120.00" cy="372.00" r="2.3" fill="#f4a8a3" stroke="#e99591" stroke-width="0.5"/>
<circle cx="123.80" cy="378.30" r="2.3" fill="#f4a8a3" stroke="#e99591" stroke-width="0.5"/>
<circle cx="125.00" cy="373.30" r="2.3" fill="#f4a8a3" stroke="#e99591" stroke-width="0.5"/>
<circle cx="126.90" cy="370.10" r="2.3" fill="#f4a8a3" stroke="#e99591" stroke-width="0.5"/>
<circle cx="129.40" cy="370.80" r="2.3" fill="#f4a8a3" stroke="#e99591" stroke-width="0.5"/>
<circle cx="131.30" cy="372.60" r="2.3" fill="#f4a8a3" stroke="#e99591" stroke-width="0.5"/>
<circle cx="133.10" cy="373.90" r="2.3" fill="#f4a8a3" stroke="#e99591" stroke-width="0.5"/>
<circle cx="148.10" cy="376.40" r="2.3" fill="#f4a8a3" stroke="#e99591" stroke-width="0.5"/>
<circle cx="150.00" cy="372.60" r="2.3" fill="#f4a8a3" stroke="#e99591" stroke-width="0.5"/>
<circle cx="151.90" cy="370.10" r="2.3" fill="#f4a8a3" stroke="#e99591" stroke-width="0.5"/>
<circle cx="153.80" cy="371.40" r="2.3" fill="#f4a8a3" stroke="#e99591" stroke-width="0.5"/>
<circle cx="158.10" cy="374.50" r="2.3" fill="#f4a8a3" stroke="#e99591" stroke-width="0.5"/>
<circle cx="164.40" cy="381.40" r="2.3" fill="#f4a8a3" stroke="#e99591" stroke-width="0.5"/>
<circle cx="208.00" cy="370.10" r="2.3" fill="#f4a8a3" stroke="#e99591" stroke-width="0.5"/>
<circle cx="209.90" cy="369.50" r="2.3" fill="#f4a8a3" stroke="#e99591" stroke-width="0.5"/>
<circle cx="212.40" cy="369.50" r="2.3" fill="#f4a8a3" stroke="#e99591" stroke-width="0.5"/>
<circle cx="214.30" cy="369.80" r="2.3" fill="#f4a8a3" stroke="#e99591" stroke-width="0.5"/>
<circle cx="216.10" cy="369.80" r="2.3" fill="#f4a8a3" stroke="#e99591" stroke-width="0.5"/>
<circle cx="218.00" cy="369.80" r="2.3" fill="#f4a8a3" stroke="#e99591" stroke-width="0.5"/>
<circle cx="220.50" cy="370.10" r="2.3" fill="#f4a8a3" stroke="#e99591" stroke-width="0.5"/>
<circle cx="213.00" cy="372.60" r="2.3" fill="#f4a8a3" stroke="#e99591" stroke-width="0.5"/>
<circle cx="214.90" cy="375.10" r="2.3" fill="#f4a8a3" stroke="#e99591" stroke-width="0.5"/>
<circle cx="219.90" cy="372.00" r="2.3" fill="#f4a8a3" stroke="#e99591" stroke-width="0.5"/>
<circle cx="226.10" cy="370.10" r="2.3" fill="#f4a8a3" stroke="#e99591" stroke-width="0.5"/>
<circle cx="228.00" cy="368.90" r="2.3" fill="#f4a8a3" stroke="#e99591" stroke-width="0.5"/>
<circle cx="229.90" cy="370.80" r="2.3" fill="#f4a8a3" stroke="#e99591" stroke-width="0.5"/>
<circle cx="231.10" cy="372.60" r="2.3" fill="#f4a8a3" stroke="#e99591" stroke-width="0.5"/>
<circle cx="233.00" cy="373.30" r="2.3" fill="#f4a8a3" stroke="#e99591" stroke-width="0.5"/>
<circle cx="229.30" cy="377.00" r="2.3" fill="#f4a8a3" stroke="#e99591" stroke-width="0.5"/>
<circle cx="236.10" cy="377.00" r="2.3" fill="#f4a8a3" stroke="#e99591" stroke-width="0.5"/>
<circle cx="235.50" cy="378.90" r="2.3" fill="#f4a8a3" stroke="#e99591" stroke-width="0.5"/>
<circle cx="239.90" cy="371.40" r="2.3" fill="#f4a8a3" stroke="#e99591" stroke-width="0.5"/>
<circle cx="241.80" cy="370.10" r="2.3" fill="#f4a8a3" stroke="#e99591" stroke-width="0.5"/>
<circle cx="243.60" cy="368.90" r="2.3" fill="#f4a8a3" stroke="#e99591" stroke-width="0.5"/>
<circle cx="245.50" cy="369.50" r="2.3" fill="#f4a8a3" stroke="#e99591" stroke-width="0.5"/>
<circle cx="248.00" cy="369.80" r="2.3" fill="#f4a8a3" stroke="#e99591" stroke-width="0.5"/>
<circle cx="249.90" cy="369.50" r="2.3" fill="#f4a8a3" stroke="#e99591" stroke-width="0.5"/>
<circle cx="251.80" cy="370.10" r="2.3" fill="#f4a8a3" stroke="#e99591" stroke-width="0.5"/>
<circle cx="253.60" cy="370.80" r="2.3" fill="#f4a8a3" stroke="#e99591" stroke-width="0.5"/>
<circle cx="255.50" cy="372.60" r="2.3" fill="#f4a8a3" stroke="#e99591" stroke-width="0.5"/>
<circle cx="257.40" cy="373.90" r="2.3" fill="#f4a8a3" stroke="#e99591" stroke-width="0.5"/>
<circle cx="259.90" cy="375.80" r="2.3" fill="#f4a8a3" stroke="#e99591" stroke-width="0.5"/>
<circle cx="261.80" cy="377.00" r="2.3" fill="#f4a8a3" stroke="#e99591" stroke-width="0.5"/>
<circle cx="263.00" cy="379.50" r="2.3" fill="#f4a8a3" stroke="#e99591" stroke-width="0.5"/>
<circle cx="244.30" cy="373.90" r="2.3" fill="#f4a8a3" stroke="#e99591" stroke-width="0.5"/>
<circle cx="246.10" cy="375.80" r="2.3" fill="#f4a8a3" stroke="#e99591" stroke-width="0.5"/>
<circle cx="248.00" cy="377.60" r="2.3" fill="#f4a8a3" stroke="#e99591" stroke-width="0.5"/>
<circle cx="209.30" cy="383.30" r="2.3" fill="#f4a8a3" stroke="#e99591" stroke-width="0.5"/>
<circle cx="271.30" cy="370.10" r="2.3" fill="#f4a8a3" stroke="#e99591" stroke-width="0.5"/>
<circle cx="273.10" cy="369.50" r="2.3" fill="#f4a8a3" stroke="#e99591" stroke-width="0.5"/>
<circle cx="275.00" cy="370.10" r="2.3" fill="#f4a8a3" stroke="#e99591" stroke-width="0.5"/>
<circle cx="276.90" cy="369.50" r="2.3" fill="#f4a8a3" stroke="#e99591" stroke-width="0.5"/>
<circle cx="278.80" cy="370.80" r="2.3" fill="#f4a8a3" stroke="#e99591" stroke-width="0.5"/>
<circle cx="272.50" cy="374.50" r="2.3" fill="#f4a8a3" stroke="#e99591" stroke-width="0.5"/>
<circle cx="274.40" cy="377.00" r="2.3" fill="#f4a8a3" stroke="#e99591" stroke-width="0.5"/>
<circle cx="276.90" cy="375.80" r="2.3" fill="#f4a8a3" stroke="#e99591" stroke-width="0.5"/>
<circle cx="280.00" cy="378.30" r="2.3" fill="#f4a8a3" stroke="#e99591" stroke-width="0.5"/>
<circle cx="282.50" cy="370.80" r="2.3" fill="#f4a8a3" stroke="#e99591" stroke-width="0.5"/>
<circle cx="283.80" cy="373.30" r="2.3" fill="#f4a8a3" stroke="#e99591" stroke-width="0.5"/>
<circle cx="285.60" cy="374.50" r="2.3" fill="#f4a8a3" stroke="#e99591" stroke-width="0.5"/>
<circle cx="287.50" cy="369.50" r="2.3" fill="#f4a8a3" stroke="#e99591" stroke-width="0.5"/>
<circle cx="288.80" cy="371.40" r="2.3" fill="#f4a8a3" stroke="#e99591" stroke-width="0.5"/>
<circle cx="290.00" cy="373.30" r="2.3" fill="#f4a8a3" stroke="#e99591" stroke-width="0.5"/>
<circle cx="288.10" cy="377.00" r="2.3" fill="#f4a8a3" stroke="#e99591" stroke-width="0.5"/>
<circle cx="288.80" cy="380.10" r="2.3" fill="#f4a8a3" stroke="#e99591" stroke-width="0.5"/>
<circle cx="291.90" cy="369.50" r="2.3" fill="#f4a8a3" stroke="#e99591" stroke-width="0.5"/>
<circle cx="293.80" cy="373.90" r="2.3" fill="#f4a8a3" stroke="#e99591" stroke-width="0.5"/>
<circle cx="295.00" cy="376.40" r="2.3" fill="#f4a8a3" stroke="#e99591" stroke-width="0.5"/>
<circle cx="298.80" cy="369.50" r="2.3" fill="#f4a8a3" stroke="#e99591" stroke-width="0.5"/>
<circle cx="301.30" cy="368.90" r="2.3" fill="#f4a8a3" stroke="#e99591" stroke-width="0.5"/>
<circle cx="303.10" cy="369.50" r="2.3" fill="#f4a8a3" stroke="#e99591" stroke-width="0.5"/>
<circle cx="305.00" cy="370.80" r="2.3" fill="#f4a8a3" stroke="#e99591" stroke-width="0.5"/>
<circle cx="307.50" cy="371.40" r="2.3" fill="#f4a8a3" stroke="#e99591" stroke-width="0.5"/>
<circle cx="309.40" cy="370.80" r="2.3" fill="#f4a8a3" stroke="#e99591" stroke-width="0.5"/>
<circle cx="311.30" cy="372.60" r="2.3" fill="#f4a8a3" stroke="#e99591" stroke-width="0.5"/>
<circle cx="312.50" cy="375.10" r="2.3" fill="#f4a8a3" stroke="#e99591" stroke-width="0.5"/>
<circle cx="314.40" cy="371.40" r="2.3" fill="#f4a8a3" stroke="#e99591" stroke-width="0.5"/>
<circle cx="316.30" cy="370.80" r="2.3" fill="#f4a8a3" stroke="#e99591" stroke-width="0.5"/>
<circle cx="318.10" cy="373.30" r="2.3" fill="#f4a8a3" stroke="#e99591" stroke-width="0.5"/>
<circle cx="320.00" cy="369.50" r="2.3" fill="#f4a8a3" stroke="#e99591" stroke-width="0.5"/>
<circle cx="321.90" cy="371.40" r="2.3" fill="#f4a8a3" stroke="#e99591" stroke-width="0.5"/>
<circle cx="323.80" cy="372.00" r="2.3" fill="#f4a8a3" stroke="#e99591" stroke-width="0.5"/>
<circle cx="75.00" cy="407.70" r="2.3" fill="#a99bcb" stroke="#9a8cbc" stroke-width="0.5"/>
<circle cx="120.80" cy="410.30" r="2.3" fill="#a99bcb" stroke="#9a8cbc" stroke-width="0.5"/>
<circle cx="231.60" cy="392.60" r="2.3" fill="#d9d9d9" stroke="#cfcfcf" stroke-width="0.5"/>
<circle cx="276.60" cy="409.20" r="2.3" fill="#a99bcb" stroke="#9a8cbc" stroke-width="0.5"/>
<circle cx="297.80" cy="422.40" r="2.3" fill="#a99bcb" stroke="#9a8cbc" stroke-width="0.5"/>
<line x1="369.8" y1="378.2" x2="369.8" y2="468" stroke="#222" stroke-width="1.1"/>
<line x1="369.8" y1="468" x2="492.6" y2="468" stroke="#222" stroke-width="1.1"/>
<line x1="366.50" y1="463.50" x2="369.8" y2="463.50" stroke="#222" stroke-width="0.9"/>
<text x="364.30" y="465.80" font-size="6.6" text-anchor="end" fill="#333" font-weight="normal" >0.00</text>
<line x1="366.50" y1="443.30" x2="369.8" y2="443.30" stroke="#222" stroke-width="0.9"/>
<text x="364.30" y="445.60" font-size="6.6" text-anchor="end" fill="#333" font-weight="normal" >0.25</text>
<line x1="366.50" y1="423.10" x2="369.8" y2="423.10" stroke="#222" stroke-width="0.9"/>
<text x="364.30" y="425.40" font-size="6.6" text-anchor="end" fill="#333" font-weight="normal" >0.50</text>
<line x1="366.50" y1="402.90" x2="369.8" y2="402.90" stroke="#222" stroke-width="0.9"/>
<text x="364.30" y="405.20" font-size="6.6" text-anchor="end" fill="#333" font-weight="normal" >0.75</text>
<line x1="366.50" y1="382.70" x2="369.8" y2="382.70" stroke="#222" stroke-width="0.9"/>
<text x="364.30" y="385.00" font-size="6.6" text-anchor="end" fill="#333" font-weight="normal" >1.00</text>
<line x1="403" y1="468" x2="403" y2="471.3" stroke="#222" stroke-width="0.9"/>
<line x1="459.8" y1="468" x2="459.8" y2="471.3" stroke="#222" stroke-width="0.9"/>
<text x="403" y="481.2" font-size="6.8" text-anchor="middle" fill="#333" font-weight="normal" >LOH_5</text>
<text x="459.8" y="481.2" font-size="6.8" text-anchor="middle" fill="#333" font-weight="normal" >LOH_7</text>
<text x="0" y="0" font-size="7.4" text-anchor="middle" fill="#333" transform="translate(344.2,423) rotate(-90)">Molecular time</text>
<line x1="395.29999999999995" y1="382.7" x2="412.5" y2="382.7" stroke="#111" stroke-width="1.1"/>
<line x1="395.29999999999995" y1="387.3" x2="412.5" y2="387.3" stroke="#111" stroke-width="1.1"/>
<line x1="403.9" y1="382.7" x2="403.9" y2="387.3" stroke="#111" stroke-width="1.1"/>
<circle cx="403.9" cy="385.0" r="1.1" fill="#111"/>
<line x1="451.29999999999995" y1="382.7" x2="468.5" y2="382.7" stroke="#111" stroke-width="1.1"/>
<line x1="451.29999999999995" y1="385.8" x2="468.5" y2="385.8" stroke="#111" stroke-width="1.1"/>
<line x1="459.9" y1="382.7" x2="459.9" y2="385.8" stroke="#111" stroke-width="1.1"/>
<circle cx="459.9" cy="384.2" r="1.1" fill="#111"/>
<text x="85.8" y="495" font-size="7" text-anchor="start" fill="#333" font-weight="normal" >SNV</text>
<circle cx="113.00" cy="492.50" r="3.3" fill="#f4a8a3" stroke="#e99591" stroke-width="0.5"/>
<text x="119.3" y="495" font-size="7" text-anchor="start" fill="#333" font-weight="normal" >Duplicated</text>
<circle cx="163.60" cy="492.50" r="3.3" fill="#d9d9d9" stroke="#cfcfcf" stroke-width="0.5"/>
<text x="170.5" y="495" font-size="7" text-anchor="start" fill="#333" font-weight="normal" >NA</text>
<circle cx="191.30" cy="492.50" r="3.3" fill="#a99bcb" stroke="#9a8cbc" stroke-width="0.5"/>
<text x="197.5" y="495" font-size="7.2" text-anchor="start" fill="#333" font-weight="normal" >Non-duplicated</text>
<rect x="375.20" y="272.2" width="24.12" height="3.80" fill="#5cb8e4"/>
<text x="387.23" y="267.5" font-size="6.6" text-anchor="middle" fill="#333" font-weight="normal" >C&gt;A</text>
<rect x="399.27" y="272.2" width="24.12" height="3.80" fill="#111111"/>
<text x="411.30" y="267.5" font-size="6.6" text-anchor="middle" fill="#333" font-weight="normal" >C&gt;G</text>
<rect x="423.33" y="272.2" width="24.12" height="3.80" fill="#e2231f"/>
<text x="435.37" y="267.5" font-size="6.6" text-anchor="middle" fill="#333" font-weight="normal" >C&gt;T</text>
<rect x="447.40" y="272.2" width="24.12" height="3.80" fill="#d8d8d8"/>
<text x="459.43" y="267.5" font-size="6.6" text-anchor="middle" fill="#333" font-weight="normal" >T&gt;A</text>
<rect x="471.47" y="272.2" width="24.12" height="3.80" fill="#8cc152"/>
<text x="483.50" y="267.5" font-size="6.6" text-anchor="middle" fill="#333" font-weight="normal" >T&gt;C</text>
<rect x="495.53" y="272.2" width="24.12" height="3.80" fill="#f1a7b5"/>
<text x="507.57" y="267.5" font-size="6.6" text-anchor="middle" fill="#333" font-weight="normal" >T&gt;G</text>
<rect x="375.22" y="317.20" width="1.45" height="13.30" fill="#5cb8e4"/>
<rect x="379.73" y="310.55" width="1.45" height="19.95" fill="#5cb8e4"/>
<rect x="382.74" y="317.20" width="1.45" height="13.30" fill="#5cb8e4"/>
<rect x="385.75" y="310.55" width="1.45" height="19.95" fill="#5cb8e4"/>
<rect x="388.76" y="323.85" width="1.45" height="6.65" fill="#5cb8e4"/>
<rect x="391.77" y="317.20" width="1.45" height="13.30" fill="#5cb8e4"/>
<rect x="393.27" y="317.20" width="1.45" height="13.30" fill="#5cb8e4"/>
<rect x="397.78" y="317.20" width="1.45" height="13.30" fill="#5cb8e4"/>
<rect x="400.79" y="323.85" width="1.45" height="6.65" fill="#111111"/>
<rect x="402.29" y="323.85" width="1.45" height="6.65" fill="#111111"/>
<rect x="403.80" y="323.85" width="1.45" height="6.65" fill="#111111"/>
<rect x="405.30" y="317.20" width="1.45" height="13.30" fill="#111111"/>
<rect x="406.81" y="323.85" width="1.45" height="6.65" fill="#111111"/>
<rect x="409.82" y="317.20" width="1.45" height="13.30" fill="#111111"/>
<rect x="412.82" y="323.85" width="1.45" height="6.65" fill="#111111"/>
<rect x="415.83" y="323.85" width="1.45" height="6.65" fill="#111111"/>
<rect x="417.34" y="317.20" width="1.45" height="13.30" fill="#111111"/>
<rect x="423.35" y="303.90" width="1.45" height="26.60" fill="#e2231f"/>
<rect x="424.86" y="317.20" width="1.45" height="13.30" fill="#e2231f"/>
<rect x="426.36" y="297.25" width="1.45" height="33.25" fill="#e2231f"/>
<rect x="427.87" y="310.55" width="1.45" height="19.95" fill="#e2231f"/>
<rect x="429.37" y="303.90" width="1.45" height="26.60" fill="#e2231f"/>
<rect x="432.38" y="303.90" width="1.45" height="26.60" fill="#e2231f"/>
<rect x="433.88" y="310.55" width="1.45" height="19.95" fill="#e2231f"/>
<rect x="435.39" y="303.90" width="1.45" height="26.60" fill="#e2231f"/>
<rect x="436.89" y="283.95" width="1.45" height="46.55" fill="#e2231f"/>
<rect x="438.39" y="303.90" width="1.45" height="26.60" fill="#e2231f"/>
<rect x="439.90" y="297.25" width="1.45" height="33.25" fill="#e2231f"/>
<rect x="441.40" y="310.55" width="1.45" height="19.95" fill="#e2231f"/>
<rect x="442.91" y="303.90" width="1.45" height="26.60" fill="#e2231f"/>
<rect x="444.41" y="317.20" width="1.45" height="13.30" fill="#e2231f"/>
<rect x="445.92" y="303.90" width="1.45" height="26.60" fill="#e2231f"/>
<rect x="451.93" y="317.20" width="1.45" height="13.30" fill="#d8d8d8"/>
<rect x="454.94" y="323.85" width="1.45" height="6.65" fill="#d8d8d8"/>
<rect x="457.95" y="310.55" width="1.45" height="19.95" fill="#d8d8d8"/>
<rect x="463.97" y="323.85" width="1.45" height="6.65" fill="#d8d8d8"/>
<rect x="468.48" y="323.85" width="1.45" height="6.65" fill="#d8d8d8"/>
<rect x="471.49" y="303.90" width="1.45" height="26.60" fill="#8cc152"/>
<rect x="474.50" y="323.85" width="1.45" height="6.65" fill="#8cc152"/>
<rect x="476.00" y="310.55" width="1.45" height="19.95" fill="#8cc152"/>
<rect x="479.01" y="323.85" width="1.45" height="6.65" fill="#8cc152"/>
<rect x="480.51" y="317.20" width="1.45" height="13.30" fill="#8cc152"/>
<rect x="483.52" y="323.85" width="1.45" height="6.65" fill="#8cc152"/>
<rect x="489.54" y="323.85" width="1.45" height="6.65" fill="#8cc152"/>
<rect x="491.04" y="317.20" width="1.45" height="13.30" fill="#8cc152"/>
<rect x="492.55" y="317.20" width="1.45" height="13.30" fill="#8cc152"/>
<rect x="500.07" y="323.85" width="1.45" height="6.65" fill="#f1a7b5"/>
<rect x="503.07" y="323.85" width="1.45" height="6.65" fill="#f1a7b5"/>
<rect x="504.58" y="323.85" width="1.45" height="6.65" fill="#f1a7b5"/>
<rect x="507.59" y="310.55" width="1.45" height="19.95" fill="#f1a7b5"/>
<rect x="509.09" y="323.85" width="1.45" height="6.65" fill="#f1a7b5"/>
<rect x="512.10" y="310.55" width="1.45" height="19.95" fill="#f1a7b5"/>
<rect x="516.61" y="317.20" width="1.45" height="13.30" fill="#f1a7b5"/>
<rect x="518.12" y="323.85" width="1.45" height="6.65" fill="#f1a7b5"/>
<line x1="370.4" y1="278.8" x2="370.4" y2="334.5" stroke="#222" stroke-width="1"/>
<line x1="368.40" y1="330.50" x2="370.4" y2="330.50" stroke="#222" stroke-width="0.8"/>
<line x1="368.40" y1="323.85" x2="370.4" y2="323.85" stroke="#222" stroke-width="0.8"/>
<line x1="368.40" y1="317.20" x2="370.4" y2="317.20" stroke="#222" stroke-width="0.8"/>
<line x1="368.40" y1="310.55" x2="370.4" y2="310.55" stroke="#222" stroke-width="0.8"/>
<line x1="368.40" y1="303.90" x2="370.4" y2="303.90" stroke="#222" stroke-width="0.8"/>
<line x1="368.40" y1="297.25" x2="370.4" y2="297.25" stroke="#222" stroke-width="0.8"/>
<line x1="368.40" y1="290.60" x2="370.4" y2="290.60" stroke="#222" stroke-width="0.8"/>
<line x1="368.40" y1="283.95" x2="370.4" y2="283.95" stroke="#222" stroke-width="0.8"/>
<line x1="367.20" y1="330.50" x2="370.4" y2="330.50" stroke="#222" stroke-width="0.9"/>
<text x="365.20" y="332.80" font-size="6.6" text-anchor="end" fill="#333" font-weight="normal" >0</text>
<line x1="367.20" y1="317.20" x2="370.4" y2="317.20" stroke="#222" stroke-width="0.9"/>
<text x="365.20" y="319.50" font-size="6.6" text-anchor="end" fill="#333" font-weight="normal" >2</text>
<line x1="367.20" y1="303.90" x2="370.4" y2="303.90" stroke="#222" stroke-width="0.9"/>
<text x="365.20" y="306.20" font-size="6.6" text-anchor="end" fill="#333" font-weight="normal" >4</text>
<line x1="367.20" y1="290.60" x2="370.4" y2="290.60" stroke="#222" stroke-width="0.9"/>
<text x="365.20" y="292.90" font-size="6.6" text-anchor="end" fill="#333" font-weight="normal" >6</text>
<text x="0" y="0" font-size="7.2" text-anchor="middle" fill="#333" transform="translate(352.80,306.70) rotate(-90)">Duplicated SNV</text>
<text x="518.6" y="289.4" font-size="6.3" text-anchor="end" fill="#333" font-weight="normal" >SBS-MM1: 32.77%</text>
<text x="-0.2" y="518.6" font-size="12.5" text-anchor="start" fill="#111" font-weight="bold" >D</text>
<text x="180.5" y="519.6" font-size="9.6" text-anchor="middle" fill="#222" font-weight="normal" >PD34280c Whole Genome Duplication</text>
<rect x="46.8" y="531.51" width="270.20" height="9.14" fill="#f5f5f5"/>
<rect x="46.8" y="540.65" width="270.20" height="9.14" fill="#eaeaea"/>
<rect x="46.8" y="549.79" width="270.20" height="9.14" fill="#f5f5f5"/>
<rect x="46.8" y="558.93" width="270.20" height="9.14" fill="#eaeaea"/>
<rect x="46.8" y="568.07" width="270.20" height="9.14" fill="#f5f5f5"/>
<rect x="46.8" y="577.21" width="270.20" height="9.14" fill="#eaeaea"/>
<rect x="46.8" y="586.35" width="270.20" height="9.14" fill="#f5f5f5"/>
<rect x="46.8" y="595.49" width="270.20" height="9.14" fill="#eaeaea"/>
<rect x="46.8" y="604.63" width="270.20" height="9.14" fill="#f5f5f5"/>
<line x1="54.20" y1="523" x2="54.20" y2="613.8" stroke="#ffffff" stroke-width="1.8" stroke-opacity="0.75"/>
<line x1="54.20" y1="523" x2="54.20" y2="613.8" stroke="#b2b2b2" stroke-width="0.9" stroke-dasharray="2,4.7"/>
<line x1="74.30" y1="523" x2="74.30" y2="613.8" stroke="#ffffff" stroke-width="1.8" stroke-opacity="0.75"/>
<line x1="74.30" y1="523" x2="74.30" y2="613.8" stroke="#b2b2b2" stroke-width="0.9" stroke-dasharray="2,4.7"/>
<line x1="95.40" y1="523" x2="95.40" y2="613.8" stroke="#ffffff" stroke-width="1.8" stroke-opacity="0.75"/>
<line x1="95.40" y1="523" x2="95.40" y2="613.8" stroke="#b2b2b2" stroke-width="0.9" stroke-dasharray="2,4.7"/>
<line x1="113.10" y1="523" x2="113.10" y2="613.8" stroke="#ffffff" stroke-width="1.8" stroke-opacity="0.75"/>
<line x1="113.10" y1="523" x2="113.10" y2="613.8" stroke="#b2b2b2" stroke-width="0.9" stroke-dasharray="2,4.7"/>
<line x1="129.80" y1="523" x2="129.80" y2="613.8" stroke="#ffffff" stroke-width="1.8" stroke-opacity="0.75"/>
<line x1="129.80" y1="523" x2="129.80" y2="613.8" stroke="#b2b2b2" stroke-width="0.9" stroke-dasharray="2,4.7"/>
<line x1="145.80" y1="523" x2="145.80" y2="613.8" stroke="#ffffff" stroke-width="1.8" stroke-opacity="0.75"/>
<line x1="145.80" y1="523" x2="145.80" y2="613.8" stroke="#b2b2b2" stroke-width="0.9" stroke-dasharray="2,4.7"/>
<line x1="160.20" y1="523" x2="160.20" y2="613.8" stroke="#ffffff" stroke-width="1.8" stroke-opacity="0.75"/>
<line x1="160.20" y1="523" x2="160.20" y2="613.8" stroke="#b2b2b2" stroke-width="0.9" stroke-dasharray="2,4.7"/>
<line x1="174.20" y1="523" x2="174.20" y2="613.8" stroke="#ffffff" stroke-width="1.8" stroke-opacity="0.75"/>
<line x1="174.20" y1="523" x2="174.20" y2="613.8" stroke="#b2b2b2" stroke-width="0.9" stroke-dasharray="2,4.7"/>
<line x1="187.40" y1="523" x2="187.40" y2="613.8" stroke="#ffffff" stroke-width="1.8" stroke-opacity="0.75"/>
<line x1="187.40" y1="523" x2="187.40" y2="613.8" stroke="#b2b2b2" stroke-width="0.9" stroke-dasharray="2,4.7"/>
<line x1="198.30" y1="523" x2="198.30" y2="613.8" stroke="#ffffff" stroke-width="1.8" stroke-opacity="0.75"/>
<line x1="198.30" y1="523" x2="198.30" y2="613.8" stroke="#b2b2b2" stroke-width="0.9" stroke-dasharray="2,4.7"/>
<line x1="209.80" y1="523" x2="209.80" y2="613.8" stroke="#ffffff" stroke-width="1.8" stroke-opacity="0.75"/>
<line x1="209.80" y1="523" x2="209.80" y2="613.8" stroke="#b2b2b2" stroke-width="0.9" stroke-dasharray="2,4.7"/>
<line x1="221.90" y1="523" x2="221.90" y2="613.8" stroke="#ffffff" stroke-width="1.8" stroke-opacity="0.75"/>
<line x1="221.90" y1="523" x2="221.90" y2="613.8" stroke="#b2b2b2" stroke-width="0.9" stroke-dasharray="2,4.7"/>
<line x1="232.90" y1="523" x2="232.90" y2="613.8" stroke="#ffffff" stroke-width="1.8" stroke-opacity="0.75"/>
<line x1="232.90" y1="523" x2="232.90" y2="613.8" stroke="#b2b2b2" stroke-width="0.9" stroke-dasharray="2,4.7"/>
<line x1="241.20" y1="523" x2="241.20" y2="613.8" stroke="#ffffff" stroke-width="1.8" stroke-opacity="0.75"/>
<line x1="241.20" y1="523" x2="241.20" y2="613.8" stroke="#b2b2b2" stroke-width="0.9" stroke-dasharray="2,4.7"/>
<line x1="249.20" y1="523" x2="249.20" y2="613.8" stroke="#ffffff" stroke-width="1.8" stroke-opacity="0.75"/>
<line x1="249.20" y1="523" x2="249.20" y2="613.8" stroke="#b2b2b2" stroke-width="0.9" stroke-dasharray="2,4.7"/>
<line x1="256.00" y1="523" x2="256.00" y2="613.8" stroke="#ffffff" stroke-width="1.8" stroke-opacity="0.75"/>
<line x1="256.00" y1="523" x2="256.00" y2="613.8" stroke="#b2b2b2" stroke-width="0.9" stroke-dasharray="2,4.7"/>
<line x1="262.70" y1="523" x2="262.70" y2="613.8" stroke="#ffffff" stroke-width="1.8" stroke-opacity="0.75"/>
<line x1="262.70" y1="523" x2="262.70" y2="613.8" stroke="#b2b2b2" stroke-width="0.9" stroke-dasharray="2,4.7"/>
<line x1="269.40" y1="523" x2="269.40" y2="613.8" stroke="#ffffff" stroke-width="1.8" stroke-opacity="0.75"/>
<line x1="269.40" y1="523" x2="269.40" y2="613.8" stroke="#b2b2b2" stroke-width="0.9" stroke-dasharray="2,4.7"/>
<line x1="275.20" y1="523" x2="275.20" y2="613.8" stroke="#ffffff" stroke-width="1.8" stroke-opacity="0.75"/>
<line x1="275.20" y1="523" x2="275.20" y2="613.8" stroke="#b2b2b2" stroke-width="0.9" stroke-dasharray="2,4.7"/>
<line x1="279.50" y1="523" x2="279.50" y2="613.8" stroke="#ffffff" stroke-width="1.8" stroke-opacity="0.75"/>
<line x1="279.50" y1="523" x2="279.50" y2="613.8" stroke="#b2b2b2" stroke-width="0.9" stroke-dasharray="2,4.7"/>
<line x1="284.00" y1="523" x2="284.00" y2="613.8" stroke="#ffffff" stroke-width="1.8" stroke-opacity="0.75"/>
<line x1="284.00" y1="523" x2="284.00" y2="613.8" stroke="#b2b2b2" stroke-width="0.9" stroke-dasharray="2,4.7"/>
<line x1="287.50" y1="523" x2="287.50" y2="613.8" stroke="#ffffff" stroke-width="1.8" stroke-opacity="0.75"/>
<line x1="287.50" y1="523" x2="287.50" y2="613.8" stroke="#b2b2b2" stroke-width="0.9" stroke-dasharray="2,4.7"/>
<line x1="291.50" y1="523" x2="291.50" y2="613.8" stroke="#ffffff" stroke-width="1.8" stroke-opacity="0.75"/>
<line x1="291.50" y1="523" x2="291.50" y2="613.8" stroke="#b2b2b2" stroke-width="0.9" stroke-dasharray="2,4.7"/>
<line x1="308.20" y1="523" x2="308.20" y2="613.8" stroke="#ffffff" stroke-width="1.8" stroke-opacity="0.75"/>
<line x1="308.20" y1="523" x2="308.20" y2="613.8" stroke="#b2b2b2" stroke-width="0.9" stroke-dasharray="2,4.7"/>
<text x="64.25" y="528.8" font-size="3.6" text-anchor="middle" fill="#666" font-weight="normal" >1</text>
<text x="84.85" y="528.8" font-size="3.6" text-anchor="middle" fill="#666" font-weight="normal" >2</text>
<text x="104.25" y="528.8" font-size="3.6" text-anchor="middle" fill="#666" font-weight="normal" >3</text>
<text x="121.45" y="528.8" font-size="3.6" text-anchor="middle" fill="#666" font-weight="normal" >4</text>
<text x="137.80" y="528.8" font-size="3.6" text-anchor="middle" fill="#666" font-weight="normal" >5</text>
<text x="153.00" y="528.8" font-size="3.6" text-anchor="middle" fill="#666" font-weight="normal" >6</text>
<text x="167.20" y="528.8" font-size="3.6" text-anchor="middle" fill="#666" font-weight="normal" >7</text>
<text x="180.80" y="528.8" font-size="3.6" text-anchor="middle" fill="#666" font-weight="normal" >8</text>
<text x="192.85" y="528.8" font-size="3.6" text-anchor="middle" fill="#666" font-weight="normal" >9</text>
<text x="204.05" y="528.8" font-size="3.6" text-anchor="middle" fill="#666" font-weight="normal" >10</text>
<text x="215.85" y="528.8" font-size="3.6" text-anchor="middle" fill="#666" font-weight="normal" >11</text>
<text x="227.40" y="528.8" font-size="3.6" text-anchor="middle" fill="#666" font-weight="normal" >12</text>
<text x="237.05" y="528.8" font-size="3.6" text-anchor="middle" fill="#666" font-weight="normal" >13</text>
<text x="245.20" y="528.8" font-size="3.6" text-anchor="middle" fill="#666" font-weight="normal" >14</text>
<text x="252.60" y="528.8" font-size="3.6" text-anchor="middle" fill="#666" font-weight="normal" >15</text>
<text x="259.35" y="528.8" font-size="3.6" text-anchor="middle" fill="#666" font-weight="normal" >16</text>
<text x="266.05" y="528.8" font-size="3.6" text-anchor="middle" fill="#666" font-weight="normal" >17</text>
<text x="272.30" y="528.8" font-size="3.6" text-anchor="middle" fill="#666" font-weight="normal" >18</text>
<text x="277.35" y="528.8" font-size="3.6" text-anchor="middle" fill="#666" font-weight="normal" >19</text>
<text x="281.75" y="528.8" font-size="3.6" text-anchor="middle" fill="#666" font-weight="normal" >20</text>
<text x="285.75" y="528.8" font-size="3.6" text-anchor="middle" fill="#666" font-weight="normal" >21</text>
<text x="289.50" y="528.8" font-size="3.6" text-anchor="middle" fill="#666" font-weight="normal" >22</text>
<text x="299.85" y="528.8" font-size="3.6" text-anchor="middle" fill="#666" font-weight="normal" >X</text>
<line x1="43.9" y1="533.9" x2="43.9" y2="612.4" stroke="#222" stroke-width="1.1"/>
<line x1="40.8" y1="609.20" x2="43.9" y2="609.20" stroke="#222" stroke-width="1"/>
<text x="35.8" y="611.70" font-size="7" text-anchor="middle" fill="#333" font-weight="normal" >0</text>
<line x1="40.8" y1="600.06" x2="43.9" y2="600.06" stroke="#222" stroke-width="1"/>
<text x="35.8" y="602.56" font-size="7" text-anchor="middle" fill="#333" font-weight="normal" >1</text>
<line x1="40.8" y1="590.92" x2="43.9" y2="590.92" stroke="#222" stroke-width="1"/>
<text x="35.8" y="593.42" font-size="7" text-anchor="middle" fill="#333" font-weight="normal" >2</text>
<line x1="40.8" y1="581.78" x2="43.9" y2="581.78" stroke="#222" stroke-width="1"/>
<text x="35.8" y="584.28" font-size="7" text-anchor="middle" fill="#333" font-weight="normal" >3</text>
<line x1="40.8" y1="572.64" x2="43.9" y2="572.64" stroke="#222" stroke-width="1"/>
<text x="35.8" y="575.14" font-size="7" text-anchor="middle" fill="#333" font-weight="normal" >4</text>
<line x1="40.8" y1="563.50" x2="43.9" y2="563.50" stroke="#222" stroke-width="1"/>
<text x="35.8" y="566.00" font-size="7" text-anchor="middle" fill="#333" font-weight="normal" >5</text>
<line x1="40.8" y1="554.36" x2="43.9" y2="554.36" stroke="#222" stroke-width="1"/>
<text x="35.8" y="556.86" font-size="7" text-anchor="middle" fill="#333" font-weight="normal" >6</text>
<line x1="40.8" y1="545.22" x2="43.9" y2="545.22" stroke="#222" stroke-width="1"/>
<text x="35.8" y="547.72" font-size="7" text-anchor="middle" fill="#333" font-weight="normal" >7</text>
<line x1="40.8" y1="536.08" x2="43.9" y2="536.08" stroke="#222" stroke-width="1"/>
<text x="35.8" y="538.58" font-size="7" text-anchor="middle" fill="#333" font-weight="normal" >8</text>
<text x="0" y="0" font-size="7.4" text-anchor="middle" fill="#333" transform="translate(27.0,573.5) rotate(-90)">Copy number</text>
<rect x="108.80" y="553.36" width="3.90" height="2.0" fill="#111"/>
<rect x="151.90" y="553.36" width="1.80" height="2.0" fill="#111"/>
<rect x="220.00" y="553.36" width="1.80" height="2.0" fill="#111"/>
<rect x="74.10" y="562.50" width="1.40" height="2.0" fill="#111"/>
<rect x="82.50" y="562.50" width="1.70" height="2.0" fill="#111"/>
<rect x="88.90" y="562.50" width="4.60" height="2.0" fill="#111"/>
<rect x="104.00" y="562.50" width="1.00" height="2.0" fill="#111"/>
<rect x="107.80" y="562.50" width="1.00" height="2.0" fill="#111"/>
<rect x="153.80" y="562.50" width="7.00" height="2.0" fill="#111"/>
<rect x="198.70" y="562.50" width="2.50" height="2.0" fill="#111"/>
<rect x="188.50" y="562.50" width="0.80" height="2.0" fill="#111"/>
<rect x="191.00" y="562.50" width="0.80" height="2.0" fill="#111"/>
<rect x="232.80" y="562.50" width="1.10" height="2.0" fill="#111"/>
<rect x="241.20" y="562.50" width="1.10" height="2.0" fill="#111"/>
<rect x="249.10" y="562.50" width="1.10" height="2.0" fill="#111"/>
<rect x="257.60" y="562.50" width="1.10" height="2.0" fill="#111"/>
<rect x="259.60" y="562.50" width="1.10" height="2.0" fill="#111"/>
<rect x="263.60" y="562.50" width="1.10" height="2.0" fill="#111"/>
<rect x="269.30" y="562.50" width="1.10" height="2.0" fill="#111"/>
<rect x="275.10" y="562.50" width="1.10" height="2.0" fill="#111"/>
<rect x="286.90" y="562.50" width="1.10" height="2.0" fill="#111"/>
<rect x="55.70" y="571.64" width="18.00" height="2.0" fill="#111"/>
<rect x="75.50" y="571.64" width="6.40" height="2.0" fill="#111"/>
<rect x="84.20" y="571.64" width="4.10" height="2.0" fill="#111"/>
<rect x="93.50" y="571.64" width="2.30" height="2.0" fill="#111"/>
<rect x="102.50" y="571.64" width="5.80" height="2.0" fill="#111"/>
<rect x="113.00" y="571.64" width="5.50" height="2.0" fill="#111"/>
<rect x="130.20" y="571.64" width="3.50" height="2.0" fill="#111"/>
<rect x="137.10" y="571.64" width="15.00" height="2.0" fill="#111"/>
<rect x="174.60" y="571.64" width="15.00" height="2.0" fill="#111"/>
<rect x="201.50" y="571.64" width="6.40" height="2.0" fill="#111"/>
<rect x="210.30" y="571.64" width="1.00" height="2.0" fill="#111"/>
<rect x="214.60" y="571.64" width="4.80" height="2.0" fill="#111"/>
<rect x="222.30" y="571.64" width="34.60" height="2.0" fill="#111"/>
<rect x="260.30" y="571.64" width="1.00" height="2.0" fill="#111"/>
<rect x="264.60" y="571.64" width="43.60" height="2.0" fill="#111"/>
<rect x="55.00" y="580.78" width="1.40" height="2.0" fill="#111"/>
<rect x="96.20" y="580.78" width="5.70" height="2.0" fill="#111"/>
<rect x="108.70" y="580.78" width="3.40" height="2.0" fill="#f2ab2e"/>
<rect x="118.50" y="580.78" width="3.80" height="2.0" fill="#111"/>
<rect x="134.80" y="580.78" width="2.30" height="2.0" fill="#111"/>
<rect x="161.30" y="580.78" width="4.10" height="2.0" fill="#111"/>
<rect x="191.90" y="580.78" width="6.40" height="2.0" fill="#111"/>
<rect x="207.90" y="580.78" width="7.10" height="2.0" fill="#111"/>
<rect x="55.70" y="589.92" width="39.90" height="2.0" fill="#f2ab2e"/>
<rect x="101.90" y="589.92" width="6.90" height="2.0" fill="#f2ab2e"/>
<rect x="113.00" y="589.92" width="5.50" height="2.0" fill="#f2ab2e"/>
<rect x="122.30" y="589.92" width="7.30" height="2.0" fill="#111"/>
<rect x="129.60" y="589.92" width="5.80" height="2.0" fill="#f2ab2e"/>
<rect x="145.80" y="589.92" width="10.90" height="2.0" fill="#f2ab2e"/>
<rect x="166.00" y="589.92" width="8.00" height="2.0" fill="#111"/>
<rect x="175.20" y="589.92" width="6.80" height="2.0" fill="#f2ab2e"/>
<rect x="184.80" y="589.92" width="6.70" height="2.0" fill="#f2ab2e"/>
<rect x="198.30" y="589.92" width="9.60" height="2.0" fill="#f2ab2e"/>
<rect x="214.60" y="589.92" width="22.70" height="2.0" fill="#f2ab2e"/>
<rect x="240.60" y="589.92" width="63.60" height="2.0" fill="#f2ab2e"/>
<rect x="189.00" y="589.92" width="1.30" height="2.0" fill="#111"/>
<rect x="133.00" y="589.92" width="1.20" height="2.0" fill="#111"/>
<rect x="258.00" y="589.92" width="1.30" height="2.0" fill="#111"/>
<rect x="262.00" y="589.92" width="1.50" height="2.0" fill="#111"/>
<rect x="54.50" y="599.06" width="1.50" height="2.0" fill="#f2ab2e"/>
<rect x="95.80" y="599.06" width="6.20" height="2.0" fill="#f2ab2e"/>
<rect x="118.50" y="599.06" width="7.10" height="2.0" fill="#f2ab2e"/>
<rect x="160.80" y="599.06" width="5.20" height="2.0" fill="#f2ab2e"/>
<rect x="207.90" y="599.06" width="7.10" height="2.0" fill="#f2ab2e"/>
<rect x="133.70" y="608.20" width="12.10" height="2.0" fill="#f2ab2e"/>
<rect x="165.40" y="608.20" width="9.20" height="2.0" fill="#f2ab2e"/>
<rect x="190.60" y="608.20" width="7.70" height="2.0" fill="#f2ab2e"/>
<rect x="257.50" y="608.20" width="8.00" height="2.0" fill="#f2ab2e"/>
<rect x="374.80" y="542.3" width="23.67" height="3.50" fill="#5cb8e4"/>
<text x="386.61" y="536.6" font-size="6.6" text-anchor="middle" fill="#333" font-weight="normal" >C&gt;A</text>
<rect x="398.42" y="542.3" width="23.67" height="3.50" fill="#111111"/>
<text x="410.23" y="536.6" font-size="6.6" text-anchor="middle" fill="#333" font-weight="normal" >C&gt;G</text>
<rect x="422.03" y="542.3" width="23.67" height="3.50" fill="#e2231f"/>
<text x="433.84" y="536.6" font-size="6.6" text-anchor="middle" fill="#333" font-weight="normal" >C&gt;T</text>
<rect x="445.65" y="542.3" width="23.67" height="3.50" fill="#d8d8d8"/>
<text x="457.46" y="536.6" font-size="6.6" text-anchor="middle" fill="#333" font-weight="normal" >T&gt;A</text>
<rect x="469.27" y="542.3" width="23.67" height="3.50" fill="#8cc152"/>
<text x="481.07" y="536.6" font-size="6.6" text-anchor="middle" fill="#333" font-weight="normal" >T&gt;C</text>
<rect x="492.88" y="542.3" width="23.67" height="3.50" fill="#f1a7b5"/>
<text x="504.69" y="536.6" font-size="6.6" text-anchor="middle" fill="#333" font-weight="normal" >T&gt;G</text>
<rect x="374.82" y="584.70" width="1.43" height="10.10" fill="#5cb8e4"/>
<rect x="376.30" y="580.66" width="1.43" height="14.14" fill="#5cb8e4"/>
<rect x="377.77" y="591.26" width="1.43" height="3.54" fill="#5cb8e4"/>
<rect x="379.25" y="590.76" width="1.43" height="4.04" fill="#5cb8e4"/>
<rect x="380.72" y="591.77" width="1.43" height="3.03" fill="#5cb8e4"/>
<rect x="382.20" y="591.26" width="1.43" height="3.54" fill="#5cb8e4"/>
<rect x="383.68" y="592.78" width="1.43" height="2.02" fill="#5cb8e4"/>
<rect x="385.15" y="582.68" width="1.43" height="12.12" fill="#5cb8e4"/>
<rect x="386.63" y="575.61" width="1.43" height="19.19" fill="#5cb8e4"/>
<rect x="388.10" y="567.53" width="1.43" height="27.27" fill="#5cb8e4"/>
<rect x="389.58" y="592.27" width="1.43" height="2.52" fill="#5cb8e4"/>
<rect x="391.06" y="592.78" width="1.43" height="2.02" fill="#5cb8e4"/>
<rect x="392.53" y="591.77" width="1.43" height="3.03" fill="#5cb8e4"/>
<rect x="394.01" y="591.26" width="1.43" height="3.54" fill="#5cb8e4"/>
<rect x="395.48" y="590.76" width="1.43" height="4.04" fill="#5cb8e4"/>
<rect x="396.96" y="589.75" width="1.43" height="5.05" fill="#5cb8e4"/>
<rect x="398.44" y="591.77" width="1.43" height="3.03" fill="#111111"/>
<rect x="399.91" y="592.78" width="1.43" height="2.02" fill="#111111"/>
<rect x="401.39" y="588.74" width="1.43" height="6.06" fill="#111111"/>
<rect x="402.86" y="592.78" width="1.43" height="2.02" fill="#111111"/>
<rect x="404.34" y="593.79" width="1.43" height="1.01" fill="#111111"/>
<rect x="405.82" y="589.75" width="1.43" height="5.05" fill="#111111"/>
<rect x="407.29" y="591.77" width="1.43" height="3.03" fill="#111111"/>
<rect x="408.77" y="592.78" width="1.43" height="2.02" fill="#111111"/>
<rect x="410.25" y="588.74" width="1.43" height="6.06" fill="#111111"/>
<rect x="411.72" y="592.78" width="1.43" height="2.02" fill="#111111"/>
<rect x="413.20" y="590.76" width="1.43" height="4.04" fill="#111111"/>
<rect x="414.67" y="588.74" width="1.43" height="6.06" fill="#111111"/>
<rect x="416.15" y="591.77" width="1.43" height="3.03" fill="#111111"/>
<rect x="417.63" y="592.78" width="1.43" height="2.02" fill="#111111"/>
<rect x="419.10" y="589.75" width="1.43" height="5.05" fill="#111111"/>
<rect x="420.58" y="588.74" width="1.43" height="6.06" fill="#111111"/>
<rect x="422.05" y="585.71" width="1.43" height="9.09" fill="#e2231f"/>
<rect x="423.53" y="580.66" width="1.43" height="14.14" fill="#e2231f"/>
<rect x="425.01" y="583.69" width="1.43" height="11.11" fill="#e2231f"/>
<rect x="426.48" y="578.64" width="1.43" height="16.16" fill="#e2231f"/>
<rect x="427.96" y="583.69" width="1.43" height="11.11" fill="#e2231f"/>
<rect x="429.43" y="584.70" width="1.43" height="10.10" fill="#e2231f"/>
<rect x="430.91" y="548.34" width="1.43" height="46.46" fill="#e2231f"/>
<rect x="432.39" y="584.70" width="1.43" height="10.10" fill="#e2231f"/>
<rect x="433.86" y="557.43" width="1.43" height="37.37" fill="#e2231f"/>
<rect x="435.34" y="583.69" width="1.43" height="11.11" fill="#e2231f"/>
<rect x="436.81" y="583.69" width="1.43" height="11.11" fill="#e2231f"/>
<rect x="438.29" y="579.65" width="1.43" height="15.15" fill="#e2231f"/>
<rect x="439.77" y="585.71" width="1.43" height="9.09" fill="#e2231f"/>
<rect x="441.24" y="589.75" width="1.43" height="5.05" fill="#e2231f"/>
<rect x="442.72" y="583.69" width="1.43" height="11.11" fill="#e2231f"/>
<rect x="444.19" y="589.75" width="1.43" height="5.05" fill="#e2231f"/>
<rect x="445.67" y="593.79" width="1.43" height="1.01" fill="#d8d8d8"/>
<rect x="447.15" y="591.77" width="1.43" height="3.03" fill="#d8d8d8"/>
<rect x="450.10" y="591.77" width="1.43" height="3.03" fill="#d8d8d8"/>
<rect x="451.57" y="593.79" width="1.43" height="1.01" fill="#d8d8d8"/>
<rect x="453.05" y="586.72" width="1.43" height="8.08" fill="#d8d8d8"/>
<rect x="456.00" y="579.65" width="1.43" height="15.15" fill="#d8d8d8"/>
<rect x="458.95" y="592.78" width="1.43" height="2.02" fill="#d8d8d8"/>
<rect x="460.43" y="593.79" width="1.43" height="1.01" fill="#d8d8d8"/>
<rect x="461.91" y="589.75" width="1.43" height="5.05" fill="#d8d8d8"/>
<rect x="464.86" y="592.78" width="1.43" height="2.02" fill="#d8d8d8"/>
<rect x="466.33" y="593.79" width="1.43" height="1.01" fill="#d8d8d8"/>
<rect x="469.29" y="585.71" width="1.43" height="9.09" fill="#8cc152"/>
<rect x="470.76" y="588.74" width="1.43" height="6.06" fill="#8cc152"/>
<rect x="472.24" y="586.72" width="1.43" height="8.08" fill="#8cc152"/>
<rect x="473.71" y="582.68" width="1.43" height="12.12" fill="#8cc152"/>
<rect x="475.19" y="586.72" width="1.43" height="8.08" fill="#8cc152"/>
<rect x="476.67" y="587.73" width="1.43" height="7.07" fill="#8cc152"/>
<rect x="478.14" y="589.75" width="1.43" height="5.05" fill="#8cc152"/>
<rect x="479.62" y="590.76" width="1.43" height="4.04" fill="#8cc152"/>
<rect x="481.09" y="590.76" width="1.43" height="4.04" fill="#8cc152"/>
<rect x="482.57" y="591.77" width="1.43" height="3.03" fill="#8cc152"/>
<rect x="484.05" y="589.75" width="1.43" height="5.05" fill="#8cc152"/>
<rect x="485.52" y="591.77" width="1.43" height="3.03" fill="#8cc152"/>
<rect x="487.00" y="590.76" width="1.43" height="4.04" fill="#8cc152"/>
<rect x="488.48" y="587.73" width="1.43" height="7.07" fill="#8cc152"/>
<rect x="489.95" y="592.78" width="1.43" height="2.02" fill="#8cc152"/>
<rect x="491.43" y="591.77" width="1.43" height="3.03" fill="#8cc152"/>
<rect x="492.90" y="593.79" width="1.43" height="1.01" fill="#f1a7b5"/>
<rect x="494.38" y="592.78" width="1.43" height="2.02" fill="#f1a7b5"/>
<rect x="495.86" y="593.79" width="1.43" height="1.01" fill="#f1a7b5"/>
<rect x="498.81" y="593.79" width="1.43" height="1.01" fill="#f1a7b5"/>
<rect x="500.28" y="592.78" width="1.43" height="2.02" fill="#f1a7b5"/>
<rect x="501.76" y="593.79" width="1.43" height="1.01" fill="#f1a7b5"/>
<rect x="504.71" y="592.78" width="1.43" height="2.02" fill="#f1a7b5"/>
<rect x="506.19" y="593.79" width="1.43" height="1.01" fill="#f1a7b5"/>
<rect x="507.66" y="593.79" width="1.43" height="1.01" fill="#f1a7b5"/>
<rect x="510.62" y="593.79" width="1.43" height="1.01" fill="#f1a7b5"/>
<rect x="512.09" y="592.78" width="1.43" height="2.02" fill="#f1a7b5"/>
<rect x="513.57" y="593.79" width="1.43" height="1.01" fill="#f1a7b5"/>
<rect x="515.04" y="593.79" width="1.43" height="1.01" fill="#f1a7b5"/>
<line x1="370.0" y1="551.5" x2="370.0" y2="598.8" stroke="#222" stroke-width="1"/>
<line x1="368.00" y1="594.80" x2="370.0" y2="594.80" stroke="#222" stroke-width="0.8"/>
<line x1="368.00" y1="589.75" x2="370.0" y2="589.75" stroke="#222" stroke-width="0.8"/>
<line x1="368.00" y1="584.70" x2="370.0" y2="584.70" stroke="#222" stroke-width="0.8"/>
<line x1="368.00" y1="579.65" x2="370.0" y2="579.65" stroke="#222" stroke-width="0.8"/>
<line x1="368.00" y1="574.60" x2="370.0" y2="574.60" stroke="#222" stroke-width="0.8"/>
<line x1="368.00" y1="569.55" x2="370.0" y2="569.55" stroke="#222" stroke-width="0.8"/>
<line x1="368.00" y1="564.50" x2="370.0" y2="564.50" stroke="#222" stroke-width="0.8"/>
<line x1="368.00" y1="559.45" x2="370.0" y2="559.45" stroke="#222" stroke-width="0.8"/>
<line x1="368.00" y1="554.40" x2="370.0" y2="554.40" stroke="#222" stroke-width="0.8"/>
<line x1="366.80" y1="594.80" x2="370.0" y2="594.80" stroke="#222" stroke-width="0.9"/>
<text x="364.80" y="597.10" font-size="6.6" text-anchor="end" fill="#333" font-weight="normal" >0</text>
<line x1="366.80" y1="584.70" x2="370.0" y2="584.70" stroke="#222" stroke-width="0.9"/>
<text x="364.80" y="587.00" font-size="6.6" text-anchor="end" fill="#333" font-weight="normal" >10</text>
<line x1="366.80" y1="574.60" x2="370.0" y2="574.60" stroke="#222" stroke-width="0.9"/>
<text x="364.80" y="576.90" font-size="6.6" text-anchor="end" fill="#333" font-weight="normal" >20</text>
<line x1="366.80" y1="564.50" x2="370.0" y2="564.50" stroke="#222" stroke-width="0.9"/>
<text x="364.80" y="566.80" font-size="6.6" text-anchor="end" fill="#333" font-weight="normal" >30</text>
<line x1="366.80" y1="554.40" x2="370.0" y2="554.40" stroke="#222" stroke-width="0.9"/>
<text x="364.80" y="556.70" font-size="6.6" text-anchor="end" fill="#333" font-weight="normal" >40</text>
<text x="0" y="0" font-size="7.2" text-anchor="middle" fill="#333" transform="translate(349.60,575.40) rotate(-90)">Duplicated SNV</text>
<text x="516.7" y="560.6" font-size="6.6" text-anchor="end" fill="#333" font-weight="normal" >SBS35: 46.21%</text>
<text x="-0.2" y="634.2" font-size="12.5" text-anchor="start" fill="#111" font-weight="bold" >E</text>
<text x="183.5" y="635.0" font-size="9.35" text-anchor="middle" fill="#222" font-weight="normal" >IID_H203558 chr 19 Chromothripsis</text>
<rect x="46.5" y="647.20" width="270.00" height="6.07" fill="#f5f5f5"/>
<rect x="46.5" y="653.27" width="270.00" height="6.15" fill="#eaeaea"/>
<rect x="46.5" y="659.42" width="270.00" height="6.15" fill="#f5f5f5"/>
<rect x="46.5" y="665.58" width="270.00" height="6.15" fill="#eaeaea"/>
<rect x="46.5" y="671.73" width="270.00" height="6.15" fill="#f5f5f5"/>
<rect x="46.5" y="677.88" width="270.00" height="6.15" fill="#eaeaea"/>
<rect x="46.5" y="684.02" width="270.00" height="6.15" fill="#f5f5f5"/>
<rect x="46.5" y="690.17" width="270.00" height="6.15" fill="#eaeaea"/>
<rect x="46.5" y="696.33" width="270.00" height="6.15" fill="#f5f5f5"/>
<rect x="46.5" y="702.48" width="270.00" height="6.15" fill="#eaeaea"/>
<rect x="46.5" y="708.62" width="270.00" height="6.15" fill="#f5f5f5"/>
<rect x="46.5" y="714.77" width="270.00" height="6.15" fill="#eaeaea"/>
<rect x="46.5" y="720.92" width="270.00" height="6.15" fill="#f5f5f5"/>
<line x1="44.4" y1="647.8" x2="44.4" y2="727" stroke="#222" stroke-width="1.1"/>
<line x1="41.2" y1="724.00" x2="44.4" y2="724.00" stroke="#222" stroke-width="1"/>
<text x="38.2" y="726.50" font-size="7" text-anchor="end" fill="#333" font-weight="normal" >0</text>
<line x1="42.3" y1="717.85" x2="44.4" y2="717.85" stroke="#222" stroke-width="0.8"/>
<line x1="41.2" y1="711.70" x2="44.4" y2="711.70" stroke="#222" stroke-width="1"/>
<text x="38.2" y="714.20" font-size="7" text-anchor="end" fill="#333" font-weight="normal" >2</text>
<line x1="42.3" y1="705.55" x2="44.4" y2="705.55" stroke="#222" stroke-width="0.8"/>
<line x1="41.2" y1="699.40" x2="44.4" y2="699.40" stroke="#222" stroke-width="1"/>
<text x="38.2" y="701.90" font-size="7" text-anchor="end" fill="#333" font-weight="normal" >4</text>
<line x1="42.3" y1="693.25" x2="44.4" y2="693.25" stroke="#222" stroke-width="0.8"/>
<line x1="41.2" y1="687.10" x2="44.4" y2="687.10" stroke="#222" stroke-width="1"/>
<text x="38.2" y="689.60" font-size="7" text-anchor="end" fill="#333" font-weight="normal" >6</text>
<line x1="42.3" y1="680.95" x2="44.4" y2="680.95" stroke="#222" stroke-width="0.8"/>
<line x1="41.2" y1="674.80" x2="44.4" y2="674.80" stroke="#222" stroke-width="1"/>
<text x="38.2" y="677.30" font-size="7" text-anchor="end" fill="#333" font-weight="normal" >8</text>
<line x1="42.3" y1="668.65" x2="44.4" y2="668.65" stroke="#222" stroke-width="0.8"/>
<line x1="41.2" y1="662.50" x2="44.4" y2="662.50" stroke="#222" stroke-width="1"/>
<text x="38.2" y="665.00" font-size="7" text-anchor="end" fill="#333" font-weight="normal" >10</text>
<line x1="42.3" y1="656.35" x2="44.4" y2="656.35" stroke="#222" stroke-width="0.8"/>
<line x1="41.2" y1="650.20" x2="44.4" y2="650.20" stroke="#222" stroke-width="1"/>
<text x="38.2" y="652.70" font-size="7" text-anchor="end" fill="#333" font-weight="normal" >12</text>
<text x="0" y="0" font-size="7.4" text-anchor="middle" fill="#333" transform="translate(23.6,688) rotate(-90)">Copy number</text>
<rect x="58.5" y="727" width="23.00" height="2.2" fill="#999"/>
<rect x="81.5" y="727" width="24.50" height="2.2" fill="#111"/>
<rect x="106" y="727" width="3.00" height="2.2" fill="#ddd"/>
<rect x="109" y="727" width="9.50" height="2.2" fill="#111"/>
<rect x="118.5" y="727" width="13.50" height="2.2" fill="#aaa"/>
<rect x="132" y="727" width="18.00" height="2.2" fill="#111"/>
<rect x="150" y="727" width="20.00" height="2.2" fill="#ccc"/>
<rect x="170" y="727" width="20.00" height="2.2" fill="#222"/>
<rect x="190" y="727" width="25.00" height="2.2" fill="#bbb"/>
<rect x="215" y="727" width="15.00" height="2.2" fill="#111"/>
<rect x="230" y="727" width="14.40" height="2.2" fill="#aaa"/>
<rect x="244.4" y="727" width="8.60" height="2.2" fill="#111"/>
<rect x="253" y="727" width="14.50" height="2.2" fill="#aaa"/>
<rect x="267.5" y="727" width="3.80" height="2.2" fill="#111"/>
<rect x="271.3" y="727" width="13.50" height="2.2" fill="#aaa"/>
<rect x="284.8" y="727" width="10.60" height="2.2" fill="#111"/>
<rect x="295.4" y="727" width="11.60" height="2.2" fill="#aaa"/>
<rect x="55.4" y="723.10" width="5.90" height="1.8" fill="#f2ab2e"/>
<rect x="69.8" y="723.10" width="5.30" height="1.8" fill="#f2ab2e"/>
<rect x="113" y="723.10" width="4.70" height="1.8" fill="#f2ab2e"/>
<rect x="84.6" y="716.95" width="10.60" height="1.8" fill="#f2ab2e"/>
<rect x="99.4" y="716.95" width="6.40" height="1.8" fill="#f2ab2e"/>
<rect x="123" y="716.95" width="3.00" height="1.8" fill="#f2ab2e"/>
<rect x="135.4" y="716.95" width="7.60" height="1.8" fill="#f2ab2e"/>
<rect x="153" y="716.03" width="4.70" height="1.8" fill="#f2ab2e"/>
<line x1="158.5" y1="717.85" x2="306" y2="717.85" stroke="#f2ab2e" stroke-width="1.8" stroke-dasharray="5,9"/>
<rect x="56" y="710.70" width="28.20" height="2.0" fill="#111"/>
<rect x="84.6" y="692.25" width="6.40" height="2.0" fill="#111"/>
<rect x="91" y="679.95" width="8.40" height="2.0" fill="#111"/>
<rect x="100.2" y="661.50" width="9.20" height="2.0" fill="#111"/>
<rect x="121.5" y="661.50" width="15.60" height="2.0" fill="#111"/>
<rect x="110" y="710.70" width="6.90" height="2.0" fill="#111"/>
<rect x="116.9" y="716.85" width="4.60" height="2.0" fill="#111"/>
<rect x="139.2" y="691.02" width="19.30" height="2.0" fill="#111"/>
<rect x="159.2" y="710.09" width="38.40" height="2.0" fill="#111"/>
<rect x="197.6" y="705.16" width="3.50" height="2.0" fill="#111"/>
<rect x="201.1" y="710.09" width="69.40" height="2.0" fill="#111"/>
<rect x="270.5" y="703.01" width="37.00" height="2.0" fill="#111"/>
<line x1="86.7" y1="651" x2="86.7" y2="723.8" stroke="#3f8dd0" stroke-width="1.2"/>
<line x1="91.8" y1="654.5" x2="91.8" y2="723.8" stroke="#3ea56c" stroke-width="1.2"/>
<line x1="93.6" y1="652" x2="93.6" y2="723.8" stroke="#3f8dd0" stroke-width="1.2"/>
<line x1="96.7" y1="650.5" x2="96.7" y2="723.8" stroke="#3f8dd0" stroke-width="1.2"/>
<line x1="99" y1="652" x2="99" y2="723.8" stroke="#3f8dd0" stroke-width="1.2"/>
<line x1="109.8" y1="652" x2="109.8" y2="723.8" stroke="#3f8dd0" stroke-width="1.2"/>
<line x1="120.4" y1="652" x2="120.4" y2="723.8" stroke="#3f8dd0" stroke-width="1.2"/>
<line x1="121.6" y1="653" x2="121.6" y2="723.8" stroke="#8fb8e0" stroke-width="1.2"/>
<line x1="129.4" y1="656.5" x2="129.4" y2="723.8" stroke="#555555" stroke-width="1.2"/>
<line x1="137.7" y1="653" x2="137.7" y2="723.8" stroke="#3ea56c" stroke-width="1.2"/>
<line x1="138.6" y1="654.5" x2="138.6" y2="723.8" stroke="#3ea56c" stroke-width="1.2"/>
<line x1="144.6" y1="652" x2="144.6" y2="723.8" stroke="#3f8dd0" stroke-width="1.2"/>
<line x1="146.9" y1="652" x2="146.9" y2="723.8" stroke="#ec8080" stroke-width="1.2"/>
<line x1="148.5" y1="652" x2="148.5" y2="723.8" stroke="#3f8dd0" stroke-width="1.2"/>
<line x1="150.2" y1="652" x2="150.2" y2="723.8" stroke="#ec8080" stroke-width="1.2"/>
<line x1="201.1" y1="649" x2="201.1" y2="723.8" stroke="#3f8dd0" stroke-width="1.2"/>
<line x1="218.5" y1="655.6" x2="218.5" y2="723.8" stroke="#555555" stroke-width="1.2"/>
<path d="M86.7,651 L86.7,650 M96.7,650.5 L99,649 L199,648.6 L201.1,650" fill="none" stroke="#3f8dd0" stroke-width="0.9"/>
<path d="M91.8,655 L93.5,653 L136,652.8 L138.6,655" fill="none" stroke="#3ea56c" stroke-width="0.9"/>
<path d="M99,652 L100.5,651.2 L142,651.2 L144.6,652.5" fill="none" stroke="#3f8dd0" stroke-width="0.8"/>
<path d="M109.8,652 L110.5,651.8 L119.5,651.8 L120.4,652.5" fill="none" stroke="#3f8dd0" stroke-width="0.8"/>
<path d="M93.6,657 L92.3,652 M93.6,657 L95.2,652" fill="none" stroke="#3f8dd0" stroke-width="0.8"/>
<path d="M126.3,651 L129.4,656.5" fill="none" stroke="#555555" stroke-width="0.8"/>
<path d="M215.6,650.5 L218.5,655.6" fill="none" stroke="#555555" stroke-width="0.8"/>
<path d="M144.6,657 L146.5,651.5 M146.9,657 L149,651.5 M148.5,657 L151,651.5 M150.2,657 L153,651.5" fill="none" stroke="#3f8dd0" stroke-width="0.7"/>
<line x1="109.8" y1="656.8" x2="120.4" y2="656.8" stroke="#ec8080" stroke-width="1.1"/>
<line x1="86.7" y1="650.8" x2="96.7" y2="650.8" stroke="#3f8dd0" stroke-width="0.8"/>
<line x1="109.8" y1="724.2" x2="120.4" y2="724.2" stroke="#3f8dd0" stroke-width="1.0"/>
<text x="96.1" y="644.8" font-size="6.3" text-anchor="middle" fill="#222" font-weight="normal" >9</text>
<text x="126.1" y="644.8" font-size="6.3" text-anchor="middle" fill="#222" font-weight="normal" >9</text>
<text x="149.2" y="644.8" font-size="6.3" text-anchor="middle" fill="#222" font-weight="normal" >119</text>
<text x="215.6" y="644.8" font-size="6.3" text-anchor="middle" fill="#222" font-weight="normal" >6</text>
<rect x="375.20" y="661.2" width="23.55" height="3.40" fill="#5cb8e4"/>
<text x="386.95" y="655.9" font-size="6.6" text-anchor="middle" fill="#333" font-weight="normal" >C&gt;A</text>
<rect x="398.70" y="661.2" width="23.55" height="3.40" fill="#111111"/>
<text x="410.45" y="655.9" font-size="6.6" text-anchor="middle" fill="#333" font-weight="normal" >C&gt;G</text>
<rect x="422.20" y="661.2" width="23.55" height="3.40" fill="#e2231f"/>
<text x="433.95" y="655.9" font-size="6.6" text-anchor="middle" fill="#333" font-weight="normal" >C&gt;T</text>
<rect x="445.70" y="661.2" width="23.55" height="3.40" fill="#d8d8d8"/>
<text x="457.45" y="655.9" font-size="6.6" text-anchor="middle" fill="#333" font-weight="normal" >T&gt;A</text>
<rect x="469.20" y="661.2" width="23.55" height="3.40" fill="#8cc152"/>
<text x="480.95" y="655.9" font-size="6.6" text-anchor="middle" fill="#333" font-weight="normal" >T&gt;C</text>
<rect x="492.70" y="661.2" width="23.55" height="3.40" fill="#f1a7b5"/>
<text x="504.45" y="655.9" font-size="6.6" text-anchor="middle" fill="#333" font-weight="normal" >T&gt;G</text>
<rect x="375.22" y="685.62" width="1.42" height="31.68" fill="#5cb8e4"/>
<rect x="376.69" y="709.38" width="1.42" height="7.92" fill="#5cb8e4"/>
<rect x="379.63" y="709.38" width="1.42" height="7.92" fill="#5cb8e4"/>
<rect x="381.09" y="701.46" width="1.42" height="15.84" fill="#5cb8e4"/>
<rect x="382.56" y="701.46" width="1.42" height="15.84" fill="#5cb8e4"/>
<rect x="385.50" y="709.38" width="1.42" height="7.92" fill="#5cb8e4"/>
<rect x="386.97" y="701.46" width="1.42" height="15.84" fill="#5cb8e4"/>
<rect x="388.44" y="709.38" width="1.42" height="7.92" fill="#5cb8e4"/>
<rect x="391.38" y="709.38" width="1.42" height="7.92" fill="#5cb8e4"/>
<rect x="392.84" y="693.54" width="1.42" height="23.76" fill="#5cb8e4"/>
<rect x="398.72" y="709.38" width="1.42" height="7.92" fill="#111111"/>
<rect x="400.19" y="709.38" width="1.42" height="7.92" fill="#111111"/>
<rect x="401.66" y="709.38" width="1.42" height="7.92" fill="#111111"/>
<rect x="403.13" y="709.38" width="1.42" height="7.92" fill="#111111"/>
<rect x="404.59" y="709.38" width="1.42" height="7.92" fill="#111111"/>
<rect x="406.06" y="693.54" width="1.42" height="23.76" fill="#111111"/>
<rect x="410.47" y="701.46" width="1.42" height="15.84" fill="#111111"/>
<rect x="413.41" y="709.38" width="1.42" height="7.92" fill="#111111"/>
<rect x="416.34" y="701.46" width="1.42" height="15.84" fill="#111111"/>
<rect x="417.81" y="709.38" width="1.42" height="7.92" fill="#111111"/>
<rect x="419.28" y="709.38" width="1.42" height="7.92" fill="#111111"/>
<rect x="422.22" y="701.46" width="1.42" height="15.84" fill="#e2231f"/>
<rect x="423.69" y="693.54" width="1.42" height="23.76" fill="#e2231f"/>
<rect x="425.16" y="701.46" width="1.42" height="15.84" fill="#e2231f"/>
<rect x="426.63" y="693.54" width="1.42" height="23.76" fill="#e2231f"/>
<rect x="428.09" y="701.46" width="1.42" height="15.84" fill="#e2231f"/>
<rect x="429.56" y="685.62" width="1.42" height="31.68" fill="#e2231f"/>
<rect x="432.50" y="701.46" width="1.42" height="15.84" fill="#e2231f"/>
<rect x="433.97" y="685.62" width="1.42" height="31.68" fill="#e2231f"/>
<rect x="435.44" y="709.38" width="1.42" height="7.92" fill="#e2231f"/>
<rect x="436.91" y="669.78" width="1.42" height="47.52" fill="#e2231f"/>
<rect x="438.38" y="693.54" width="1.42" height="23.76" fill="#e2231f"/>
<rect x="439.84" y="693.54" width="1.42" height="23.76" fill="#e2231f"/>
<rect x="441.31" y="709.38" width="1.42" height="7.92" fill="#e2231f"/>
<rect x="442.78" y="709.38" width="1.42" height="7.92" fill="#e2231f"/>
<rect x="444.25" y="701.46" width="1.42" height="15.84" fill="#e2231f"/>
<rect x="447.19" y="709.38" width="1.42" height="7.92" fill="#d8d8d8"/>
<rect x="454.53" y="701.46" width="1.42" height="15.84" fill="#d8d8d8"/>
<rect x="457.47" y="709.38" width="1.42" height="7.92" fill="#d8d8d8"/>
<rect x="461.88" y="701.46" width="1.42" height="15.84" fill="#d8d8d8"/>
<rect x="467.75" y="709.38" width="1.42" height="7.92" fill="#d8d8d8"/>
<rect x="469.22" y="693.54" width="1.42" height="23.76" fill="#8cc152"/>
<rect x="470.69" y="701.46" width="1.42" height="15.84" fill="#8cc152"/>
<rect x="473.63" y="709.38" width="1.42" height="7.92" fill="#8cc152"/>
<rect x="475.10" y="693.54" width="1.42" height="23.76" fill="#8cc152"/>
<rect x="476.56" y="701.46" width="1.42" height="15.84" fill="#8cc152"/>
<rect x="479.50" y="701.46" width="1.42" height="15.84" fill="#8cc152"/>
<rect x="480.97" y="709.38" width="1.42" height="7.92" fill="#8cc152"/>
<rect x="489.78" y="709.38" width="1.42" height="7.92" fill="#8cc152"/>
<rect x="491.25" y="709.38" width="1.42" height="7.92" fill="#8cc152"/>
<rect x="494.19" y="709.38" width="1.42" height="7.92" fill="#f1a7b5"/>
<rect x="498.60" y="701.46" width="1.42" height="15.84" fill="#f1a7b5"/>
<rect x="504.47" y="709.38" width="1.42" height="7.92" fill="#f1a7b5"/>
<rect x="510.35" y="693.54" width="1.42" height="23.76" fill="#f1a7b5"/>
<rect x="514.75" y="701.46" width="1.42" height="15.84" fill="#f1a7b5"/>
<line x1="370.0" y1="666" x2="370.0" y2="721.3" stroke="#222" stroke-width="1"/>
<line x1="368.00" y1="717.30" x2="370.0" y2="717.30" stroke="#222" stroke-width="0.8"/>
<line x1="368.00" y1="709.38" x2="370.0" y2="709.38" stroke="#222" stroke-width="0.8"/>
<line x1="368.00" y1="701.46" x2="370.0" y2="701.46" stroke="#222" stroke-width="0.8"/>
<line x1="368.00" y1="693.54" x2="370.0" y2="693.54" stroke="#222" stroke-width="0.8"/>
<line x1="368.00" y1="685.62" x2="370.0" y2="685.62" stroke="#222" stroke-width="0.8"/>
<line x1="368.00" y1="677.70" x2="370.0" y2="677.70" stroke="#222" stroke-width="0.8"/>
<line x1="368.00" y1="669.78" x2="370.0" y2="669.78" stroke="#222" stroke-width="0.8"/>
<line x1="366.80" y1="717.30" x2="370.0" y2="717.30" stroke="#222" stroke-width="0.9"/>
<text x="364.80" y="719.60" font-size="6.6" text-anchor="end" fill="#333" font-weight="normal" >0</text>
<line x1="366.80" y1="709.38" x2="370.0" y2="709.38" stroke="#222" stroke-width="0.9"/>
<text x="364.80" y="711.68" font-size="6.6" text-anchor="end" fill="#333" font-weight="normal" >1</text>
<line x1="366.80" y1="701.46" x2="370.0" y2="701.46" stroke="#222" stroke-width="0.9"/>
<text x="364.80" y="703.76" font-size="6.6" text-anchor="end" fill="#333" font-weight="normal" >2</text>
<line x1="366.80" y1="693.54" x2="370.0" y2="693.54" stroke="#222" stroke-width="0.9"/>
<text x="364.80" y="695.84" font-size="6.6" text-anchor="end" fill="#333" font-weight="normal" >3</text>
<line x1="366.80" y1="685.62" x2="370.0" y2="685.62" stroke="#222" stroke-width="0.9"/>
<text x="364.80" y="687.92" font-size="6.6" text-anchor="end" fill="#333" font-weight="normal" >4</text>
<line x1="366.80" y1="677.70" x2="370.0" y2="677.70" stroke="#222" stroke-width="0.9"/>
<text x="364.80" y="680.00" font-size="6.6" text-anchor="end" fill="#333" font-weight="normal" >5</text>
<line x1="366.80" y1="669.78" x2="370.0" y2="669.78" stroke="#222" stroke-width="0.9"/>
<text x="364.80" y="672.08" font-size="6.6" text-anchor="end" fill="#333" font-weight="normal" >6</text>
<text x="0" y="0" font-size="7.2" text-anchor="middle" fill="#333" transform="translate(352.40,693.80) rotate(-90)">Duplicated SNV</text>
<text x="516.5" y="677.4" font-size="6.3" text-anchor="end" fill="#333" font-weight="normal" >SBS-MM1: 33.64%</text>
</svg>
</body></html>
